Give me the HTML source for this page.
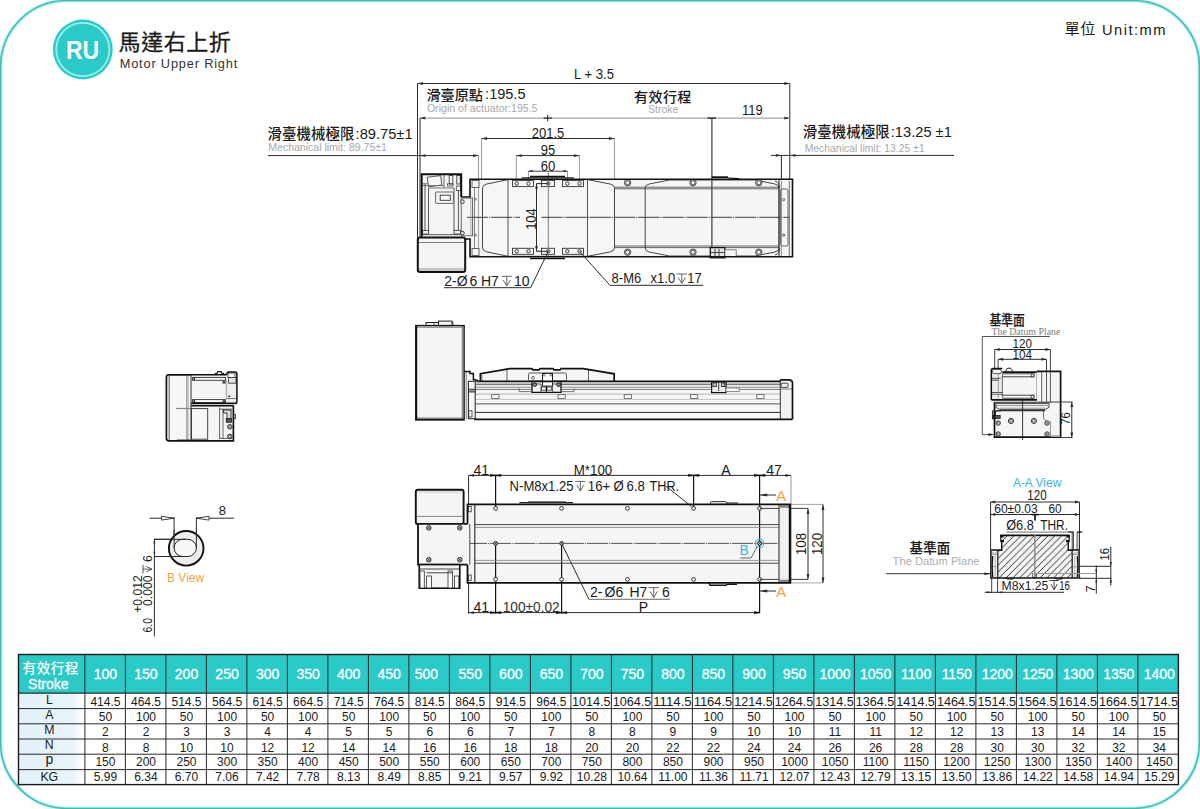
<!DOCTYPE html>
<html><head><meta charset="utf-8"><title>RU Motor Upper Right</title>
<style>html,body{margin:0;padding:0;background:#fff;}body{width:1200px;height:809px;overflow:hidden;font-family:"Liberation Sans",sans-serif;}svg{display:block;}</style>
</head><body>
<svg width="1200" height="809" viewBox="0 0 1200 809" font-family="Liberation Sans, sans-serif">
<rect x="0.6" y="0.6" width="1198.8" height="807.8" fill="#fff" stroke="#dcfafa" stroke-width="4.4" rx="66"/>
<rect x="0.6" y="0.6" width="1198.8" height="807.8" fill="none" stroke="#a9eeee" stroke-width="2.8" rx="66"/>
<rect x="0.6" y="0.6" width="1198.8" height="807.8" fill="none" stroke="#42b9b9" stroke-width="1.5" rx="66"/>
<circle cx="82.8" cy="49.5" r="29.9" fill="#2acac8"/>
<circle cx="82.8" cy="49.5" r="26.6" fill="none" stroke="#97efea" stroke-width="1.8"/>
<text x="82.5" y="58.8" font-size="26" fill="#fff" text-anchor="middle" font-weight="bold" textLength="33.2" lengthAdjust="spacingAndGlyphs">RU</text>
<text x="118.6" y="49.7" font-size="22" fill="#1a1a1a" stroke="#1a1a1a" stroke-width="0.3" font-family="'Liberation Sans', 'Noto Sans CJK TC', sans-serif" textLength="112.2" lengthAdjust="spacing">馬達右上折</text>
<text x="119.7" y="67.7" font-size="12.8" fill="#333" textLength="117.6" lengthAdjust="spacing">Motor Upper Right</text>
<text x="1064.6" y="34.3" font-size="15.2" fill="#1a1a1a" font-family="'Liberation Sans', 'Noto Sans CJK TC', sans-serif" textLength="30.9" lengthAdjust="spacing">單位</text>
<text x="1102" y="34.5" font-size="14.7" fill="#1a1a1a" textLength="63.5" lengthAdjust="spacing">Unit:mm</text>
<defs><linearGradient id="lb" x1="0" x2="1" y1="0" y2="0"><stop offset="0" stop-color="#e3f1fa"/><stop offset="0.82" stop-color="#e8f4fb"/><stop offset="1" stop-color="#ffffff"/></linearGradient></defs>
<rect x="18.5" y="654.5" width="1159.9" height="38.7" fill="#2acac8"/>
<rect x="18.5" y="693.2" width="65.4" height="91.4" fill="url(#lb)"/>
<line x1="18.5" y1="708.6" x2="1178.4" y2="708.6" stroke="#2a2a2a" stroke-width="1"/>
<line x1="18.5" y1="723.8" x2="1178.4" y2="723.8" stroke="#2a2a2a" stroke-width="1"/>
<line x1="18.5" y1="739" x2="1178.4" y2="739" stroke="#2a2a2a" stroke-width="1"/>
<line x1="18.5" y1="754.2" x2="1178.4" y2="754.2" stroke="#2a2a2a" stroke-width="1"/>
<line x1="18.5" y1="769.6" x2="1178.4" y2="769.6" stroke="#2a2a2a" stroke-width="1"/>
<line x1="18.5" y1="693.2" x2="1178.4" y2="693.2" stroke="#2a2a2a" stroke-width="1.2"/>
<line x1="84.9" y1="654.5" x2="84.9" y2="784.6" stroke="#2a2a2a" stroke-width="1"/>
<line x1="125.4" y1="654.5" x2="125.4" y2="784.6" stroke="#2a2a2a" stroke-width="1"/>
<line x1="165.9" y1="654.5" x2="165.9" y2="784.6" stroke="#2a2a2a" stroke-width="1"/>
<line x1="206.4" y1="654.5" x2="206.4" y2="784.6" stroke="#2a2a2a" stroke-width="1"/>
<line x1="246.9" y1="654.5" x2="246.9" y2="784.6" stroke="#2a2a2a" stroke-width="1"/>
<line x1="287.4" y1="654.5" x2="287.4" y2="784.6" stroke="#2a2a2a" stroke-width="1"/>
<line x1="327.9" y1="654.5" x2="327.9" y2="784.6" stroke="#2a2a2a" stroke-width="1"/>
<line x1="368.4" y1="654.5" x2="368.4" y2="784.6" stroke="#2a2a2a" stroke-width="1"/>
<line x1="408.9" y1="654.5" x2="408.9" y2="784.6" stroke="#2a2a2a" stroke-width="1"/>
<line x1="449.4" y1="654.5" x2="449.4" y2="784.6" stroke="#2a2a2a" stroke-width="1"/>
<line x1="489.9" y1="654.5" x2="489.9" y2="784.6" stroke="#2a2a2a" stroke-width="1"/>
<line x1="530.4" y1="654.5" x2="530.4" y2="784.6" stroke="#2a2a2a" stroke-width="1"/>
<line x1="570.9" y1="654.5" x2="570.9" y2="784.6" stroke="#2a2a2a" stroke-width="1"/>
<line x1="611.4" y1="654.5" x2="611.4" y2="784.6" stroke="#2a2a2a" stroke-width="1"/>
<line x1="651.9" y1="654.5" x2="651.9" y2="784.6" stroke="#2a2a2a" stroke-width="1"/>
<line x1="692.4" y1="654.5" x2="692.4" y2="784.6" stroke="#2a2a2a" stroke-width="1"/>
<line x1="732.9" y1="654.5" x2="732.9" y2="784.6" stroke="#2a2a2a" stroke-width="1"/>
<line x1="773.4" y1="654.5" x2="773.4" y2="784.6" stroke="#2a2a2a" stroke-width="1"/>
<line x1="813.9" y1="654.5" x2="813.9" y2="784.6" stroke="#2a2a2a" stroke-width="1"/>
<line x1="854.4" y1="654.5" x2="854.4" y2="784.6" stroke="#2a2a2a" stroke-width="1"/>
<line x1="894.9" y1="654.5" x2="894.9" y2="784.6" stroke="#2a2a2a" stroke-width="1"/>
<line x1="935.4" y1="654.5" x2="935.4" y2="784.6" stroke="#2a2a2a" stroke-width="1"/>
<line x1="975.9" y1="654.5" x2="975.9" y2="784.6" stroke="#2a2a2a" stroke-width="1"/>
<line x1="1016.4" y1="654.5" x2="1016.4" y2="784.6" stroke="#2a2a2a" stroke-width="1"/>
<line x1="1056.9" y1="654.5" x2="1056.9" y2="784.6" stroke="#2a2a2a" stroke-width="1"/>
<line x1="1097.4" y1="654.5" x2="1097.4" y2="784.6" stroke="#2a2a2a" stroke-width="1"/>
<line x1="1137.9" y1="654.5" x2="1137.9" y2="784.6" stroke="#2a2a2a" stroke-width="1"/>
<rect x="18.5" y="654.5" width="1159.9" height="130.1" fill="none" stroke="#1a1a1a" stroke-width="1.4"/>
<text x="22.6" y="672.6" font-size="13.6" fill="#fff" font-weight="500" font-family="'Liberation Sans', 'Noto Sans CJK TC', sans-serif" textLength="55.75" lengthAdjust="spacing">有效行程</text>
<text x="48.3" y="688.6" font-size="14" fill="#fff" text-anchor="middle" stroke="#fff" stroke-width="0.3">Stroke</text>
<text x="49.3" y="704.3" font-size="12.3" fill="#1a1a1a" text-anchor="middle">L</text>
<text x="49.3" y="719.1" font-size="12.3" fill="#1a1a1a" text-anchor="middle">A</text>
<text x="49.3" y="734.3" font-size="12.3" fill="#1a1a1a" text-anchor="middle">M</text>
<text x="49.3" y="749.2" font-size="12.3" fill="#1a1a1a" text-anchor="middle">N</text>
<text x="49.3" y="763.6" font-size="14" fill="#1a1a1a" text-anchor="middle">p</text>
<text x="49.3" y="781" font-size="12.3" fill="#1a1a1a" text-anchor="middle">KG</text>
<text x="105.45" y="679.3" font-size="14" fill="#fff" text-anchor="middle" stroke="#fff" stroke-width="0.3">100</text>
<text x="105.45" y="705.8" font-size="12" fill="#1a1a1a" text-anchor="middle">414.5</text>
<text x="105.45" y="721.3" font-size="12" fill="#1a1a1a" text-anchor="middle">50</text>
<text x="105.45" y="735.9" font-size="12" fill="#1a1a1a" text-anchor="middle">2</text>
<text x="105.45" y="751.5" font-size="12" fill="#1a1a1a" text-anchor="middle">8</text>
<text x="105.45" y="766.4" font-size="12" fill="#1a1a1a" text-anchor="middle">150</text>
<text x="105.45" y="781.2" font-size="12" fill="#1a1a1a" text-anchor="middle">5.99</text>
<text x="145.98" y="679.3" font-size="14" fill="#fff" text-anchor="middle" stroke="#fff" stroke-width="0.3">150</text>
<text x="145.98" y="705.8" font-size="12" fill="#1a1a1a" text-anchor="middle">464.5</text>
<text x="145.98" y="721.3" font-size="12" fill="#1a1a1a" text-anchor="middle">100</text>
<text x="145.98" y="735.9" font-size="12" fill="#1a1a1a" text-anchor="middle">2</text>
<text x="145.98" y="751.5" font-size="12" fill="#1a1a1a" text-anchor="middle">8</text>
<text x="145.98" y="766.4" font-size="12" fill="#1a1a1a" text-anchor="middle">200</text>
<text x="145.98" y="781.2" font-size="12" fill="#1a1a1a" text-anchor="middle">6.34</text>
<text x="186.52" y="679.3" font-size="14" fill="#fff" text-anchor="middle" stroke="#fff" stroke-width="0.3">200</text>
<text x="186.52" y="705.8" font-size="12" fill="#1a1a1a" text-anchor="middle">514.5</text>
<text x="186.52" y="721.3" font-size="12" fill="#1a1a1a" text-anchor="middle">50</text>
<text x="186.52" y="735.9" font-size="12" fill="#1a1a1a" text-anchor="middle">3</text>
<text x="186.52" y="751.5" font-size="12" fill="#1a1a1a" text-anchor="middle">10</text>
<text x="186.52" y="766.4" font-size="12" fill="#1a1a1a" text-anchor="middle">250</text>
<text x="186.52" y="781.2" font-size="12" fill="#1a1a1a" text-anchor="middle">6.70</text>
<text x="227.05" y="679.3" font-size="14" fill="#fff" text-anchor="middle" stroke="#fff" stroke-width="0.3">250</text>
<text x="227.05" y="705.8" font-size="12" fill="#1a1a1a" text-anchor="middle">564.5</text>
<text x="227.05" y="721.3" font-size="12" fill="#1a1a1a" text-anchor="middle">100</text>
<text x="227.05" y="735.9" font-size="12" fill="#1a1a1a" text-anchor="middle">3</text>
<text x="227.05" y="751.5" font-size="12" fill="#1a1a1a" text-anchor="middle">10</text>
<text x="227.05" y="766.4" font-size="12" fill="#1a1a1a" text-anchor="middle">300</text>
<text x="227.05" y="781.2" font-size="12" fill="#1a1a1a" text-anchor="middle">7.06</text>
<text x="267.59" y="679.3" font-size="14" fill="#fff" text-anchor="middle" stroke="#fff" stroke-width="0.3">300</text>
<text x="267.59" y="705.8" font-size="12" fill="#1a1a1a" text-anchor="middle">614.5</text>
<text x="267.59" y="721.3" font-size="12" fill="#1a1a1a" text-anchor="middle">50</text>
<text x="267.59" y="735.9" font-size="12" fill="#1a1a1a" text-anchor="middle">4</text>
<text x="267.59" y="751.5" font-size="12" fill="#1a1a1a" text-anchor="middle">12</text>
<text x="267.59" y="766.4" font-size="12" fill="#1a1a1a" text-anchor="middle">350</text>
<text x="267.59" y="781.2" font-size="12" fill="#1a1a1a" text-anchor="middle">7.42</text>
<text x="308.12" y="679.3" font-size="14" fill="#fff" text-anchor="middle" stroke="#fff" stroke-width="0.3">350</text>
<text x="308.12" y="705.8" font-size="12" fill="#1a1a1a" text-anchor="middle">664.5</text>
<text x="308.12" y="721.3" font-size="12" fill="#1a1a1a" text-anchor="middle">100</text>
<text x="308.12" y="735.9" font-size="12" fill="#1a1a1a" text-anchor="middle">4</text>
<text x="308.12" y="751.5" font-size="12" fill="#1a1a1a" text-anchor="middle">12</text>
<text x="308.12" y="766.4" font-size="12" fill="#1a1a1a" text-anchor="middle">400</text>
<text x="308.12" y="781.2" font-size="12" fill="#1a1a1a" text-anchor="middle">7.78</text>
<text x="348.66" y="679.3" font-size="14" fill="#fff" text-anchor="middle" stroke="#fff" stroke-width="0.3">400</text>
<text x="348.66" y="705.8" font-size="12" fill="#1a1a1a" text-anchor="middle">714.5</text>
<text x="348.66" y="721.3" font-size="12" fill="#1a1a1a" text-anchor="middle">50</text>
<text x="348.66" y="735.9" font-size="12" fill="#1a1a1a" text-anchor="middle">5</text>
<text x="348.66" y="751.5" font-size="12" fill="#1a1a1a" text-anchor="middle">14</text>
<text x="348.66" y="766.4" font-size="12" fill="#1a1a1a" text-anchor="middle">450</text>
<text x="348.66" y="781.2" font-size="12" fill="#1a1a1a" text-anchor="middle">8.13</text>
<text x="389.19" y="679.3" font-size="14" fill="#fff" text-anchor="middle" stroke="#fff" stroke-width="0.3">450</text>
<text x="389.19" y="705.8" font-size="12" fill="#1a1a1a" text-anchor="middle">764.5</text>
<text x="389.19" y="721.3" font-size="12" fill="#1a1a1a" text-anchor="middle">100</text>
<text x="389.19" y="735.9" font-size="12" fill="#1a1a1a" text-anchor="middle">5</text>
<text x="389.19" y="751.5" font-size="12" fill="#1a1a1a" text-anchor="middle">14</text>
<text x="389.19" y="766.4" font-size="12" fill="#1a1a1a" text-anchor="middle">500</text>
<text x="389.19" y="781.2" font-size="12" fill="#1a1a1a" text-anchor="middle">8.49</text>
<text x="426.33" y="679.3" font-size="14" fill="#fff" text-anchor="middle" stroke="#fff" stroke-width="0.3">500</text>
<text x="429.73" y="705.8" font-size="12" fill="#1a1a1a" text-anchor="middle">814.5</text>
<text x="429.73" y="721.3" font-size="12" fill="#1a1a1a" text-anchor="middle">50</text>
<text x="429.73" y="735.9" font-size="12" fill="#1a1a1a" text-anchor="middle">6</text>
<text x="429.73" y="751.5" font-size="12" fill="#1a1a1a" text-anchor="middle">16</text>
<text x="429.73" y="766.4" font-size="12" fill="#1a1a1a" text-anchor="middle">550</text>
<text x="429.73" y="781.2" font-size="12" fill="#1a1a1a" text-anchor="middle">8.85</text>
<text x="470.26" y="679.3" font-size="14" fill="#fff" text-anchor="middle" stroke="#fff" stroke-width="0.3">550</text>
<text x="470.26" y="705.8" font-size="12" fill="#1a1a1a" text-anchor="middle">864.5</text>
<text x="470.26" y="721.3" font-size="12" fill="#1a1a1a" text-anchor="middle">100</text>
<text x="470.26" y="735.9" font-size="12" fill="#1a1a1a" text-anchor="middle">6</text>
<text x="470.26" y="751.5" font-size="12" fill="#1a1a1a" text-anchor="middle">16</text>
<text x="470.26" y="766.4" font-size="12" fill="#1a1a1a" text-anchor="middle">600</text>
<text x="470.26" y="781.2" font-size="12" fill="#1a1a1a" text-anchor="middle">9.21</text>
<text x="510.8" y="679.3" font-size="14" fill="#fff" text-anchor="middle" stroke="#fff" stroke-width="0.3">600</text>
<text x="510.8" y="705.8" font-size="12" fill="#1a1a1a" text-anchor="middle">914.5</text>
<text x="510.8" y="721.3" font-size="12" fill="#1a1a1a" text-anchor="middle">50</text>
<text x="510.8" y="735.9" font-size="12" fill="#1a1a1a" text-anchor="middle">7</text>
<text x="510.8" y="751.5" font-size="12" fill="#1a1a1a" text-anchor="middle">18</text>
<text x="510.8" y="766.4" font-size="12" fill="#1a1a1a" text-anchor="middle">650</text>
<text x="510.8" y="781.2" font-size="12" fill="#1a1a1a" text-anchor="middle">9.57</text>
<text x="551.33" y="679.3" font-size="14" fill="#fff" text-anchor="middle" stroke="#fff" stroke-width="0.3">650</text>
<text x="551.33" y="705.8" font-size="12" fill="#1a1a1a" text-anchor="middle">964.5</text>
<text x="551.33" y="721.3" font-size="12" fill="#1a1a1a" text-anchor="middle">100</text>
<text x="551.33" y="735.9" font-size="12" fill="#1a1a1a" text-anchor="middle">7</text>
<text x="551.33" y="751.5" font-size="12" fill="#1a1a1a" text-anchor="middle">18</text>
<text x="551.33" y="766.4" font-size="12" fill="#1a1a1a" text-anchor="middle">700</text>
<text x="551.33" y="781.2" font-size="12" fill="#1a1a1a" text-anchor="middle">9.92</text>
<text x="591.87" y="679.3" font-size="14" fill="#fff" text-anchor="middle" stroke="#fff" stroke-width="0.3">700</text>
<text x="591.37" y="705.8" font-size="12" fill="#1a1a1a" text-anchor="middle" textLength="38.5" lengthAdjust="spacingAndGlyphs">1014.5</text>
<text x="591.87" y="721.3" font-size="12" fill="#1a1a1a" text-anchor="middle">50</text>
<text x="591.87" y="735.9" font-size="12" fill="#1a1a1a" text-anchor="middle">8</text>
<text x="591.87" y="751.5" font-size="12" fill="#1a1a1a" text-anchor="middle">20</text>
<text x="591.87" y="766.4" font-size="12" fill="#1a1a1a" text-anchor="middle">750</text>
<text x="591.87" y="781.2" font-size="12" fill="#1a1a1a" text-anchor="middle">10.28</text>
<text x="632.4" y="679.3" font-size="14" fill="#fff" text-anchor="middle" stroke="#fff" stroke-width="0.3">750</text>
<text x="631.9" y="705.8" font-size="12" fill="#1a1a1a" text-anchor="middle" textLength="38.5" lengthAdjust="spacingAndGlyphs">1064.5</text>
<text x="632.4" y="721.3" font-size="12" fill="#1a1a1a" text-anchor="middle">100</text>
<text x="632.4" y="735.9" font-size="12" fill="#1a1a1a" text-anchor="middle">8</text>
<text x="632.4" y="751.5" font-size="12" fill="#1a1a1a" text-anchor="middle">20</text>
<text x="632.4" y="766.4" font-size="12" fill="#1a1a1a" text-anchor="middle">800</text>
<text x="632.4" y="781.2" font-size="12" fill="#1a1a1a" text-anchor="middle">10.64</text>
<text x="672.93" y="679.3" font-size="14" fill="#fff" text-anchor="middle" stroke="#fff" stroke-width="0.3">800</text>
<text x="672.43" y="705.8" font-size="12" fill="#1a1a1a" text-anchor="middle" textLength="38.5" lengthAdjust="spacingAndGlyphs">1114.5</text>
<text x="672.93" y="721.3" font-size="12" fill="#1a1a1a" text-anchor="middle">50</text>
<text x="672.93" y="735.9" font-size="12" fill="#1a1a1a" text-anchor="middle">9</text>
<text x="672.93" y="751.5" font-size="12" fill="#1a1a1a" text-anchor="middle">22</text>
<text x="672.93" y="766.4" font-size="12" fill="#1a1a1a" text-anchor="middle">850</text>
<text x="672.93" y="781.2" font-size="12" fill="#1a1a1a" text-anchor="middle">11.00</text>
<text x="713.47" y="679.3" font-size="14" fill="#fff" text-anchor="middle" stroke="#fff" stroke-width="0.3">850</text>
<text x="712.97" y="705.8" font-size="12" fill="#1a1a1a" text-anchor="middle" textLength="38.5" lengthAdjust="spacingAndGlyphs">1164.5</text>
<text x="713.47" y="721.3" font-size="12" fill="#1a1a1a" text-anchor="middle">100</text>
<text x="713.47" y="735.9" font-size="12" fill="#1a1a1a" text-anchor="middle">9</text>
<text x="713.47" y="751.5" font-size="12" fill="#1a1a1a" text-anchor="middle">22</text>
<text x="713.47" y="766.4" font-size="12" fill="#1a1a1a" text-anchor="middle">900</text>
<text x="713.47" y="781.2" font-size="12" fill="#1a1a1a" text-anchor="middle">11.36</text>
<text x="754" y="679.3" font-size="14" fill="#fff" text-anchor="middle" stroke="#fff" stroke-width="0.3">900</text>
<text x="753.5" y="705.8" font-size="12" fill="#1a1a1a" text-anchor="middle" textLength="38.5" lengthAdjust="spacingAndGlyphs">1214.5</text>
<text x="754" y="721.3" font-size="12" fill="#1a1a1a" text-anchor="middle">50</text>
<text x="754" y="735.9" font-size="12" fill="#1a1a1a" text-anchor="middle">10</text>
<text x="754" y="751.5" font-size="12" fill="#1a1a1a" text-anchor="middle">24</text>
<text x="754" y="766.4" font-size="12" fill="#1a1a1a" text-anchor="middle">950</text>
<text x="754" y="781.2" font-size="12" fill="#1a1a1a" text-anchor="middle">11.71</text>
<text x="794.54" y="679.3" font-size="14" fill="#fff" text-anchor="middle" stroke="#fff" stroke-width="0.3">950</text>
<text x="794.04" y="705.8" font-size="12" fill="#1a1a1a" text-anchor="middle" textLength="38.5" lengthAdjust="spacingAndGlyphs">1264.5</text>
<text x="794.54" y="721.3" font-size="12" fill="#1a1a1a" text-anchor="middle">100</text>
<text x="794.54" y="735.9" font-size="12" fill="#1a1a1a" text-anchor="middle">10</text>
<text x="794.54" y="751.5" font-size="12" fill="#1a1a1a" text-anchor="middle">24</text>
<text x="794.54" y="766.4" font-size="12" fill="#1a1a1a" text-anchor="middle">1000</text>
<text x="794.54" y="781.2" font-size="12" fill="#1a1a1a" text-anchor="middle">12.07</text>
<text x="835.07" y="679.3" font-size="14" fill="#fff" text-anchor="middle" stroke="#fff" stroke-width="0.3">1000</text>
<text x="834.57" y="705.8" font-size="12" fill="#1a1a1a" text-anchor="middle" textLength="38.5" lengthAdjust="spacingAndGlyphs">1314.5</text>
<text x="835.07" y="721.3" font-size="12" fill="#1a1a1a" text-anchor="middle">50</text>
<text x="835.07" y="735.9" font-size="12" fill="#1a1a1a" text-anchor="middle">11</text>
<text x="835.07" y="751.5" font-size="12" fill="#1a1a1a" text-anchor="middle">26</text>
<text x="835.07" y="766.4" font-size="12" fill="#1a1a1a" text-anchor="middle">1050</text>
<text x="835.07" y="781.2" font-size="12" fill="#1a1a1a" text-anchor="middle">12.43</text>
<text x="875.61" y="679.3" font-size="14" fill="#fff" text-anchor="middle" stroke="#fff" stroke-width="0.3">1050</text>
<text x="875.11" y="705.8" font-size="12" fill="#1a1a1a" text-anchor="middle" textLength="38.5" lengthAdjust="spacingAndGlyphs">1364.5</text>
<text x="875.61" y="721.3" font-size="12" fill="#1a1a1a" text-anchor="middle">100</text>
<text x="875.61" y="735.9" font-size="12" fill="#1a1a1a" text-anchor="middle">11</text>
<text x="875.61" y="751.5" font-size="12" fill="#1a1a1a" text-anchor="middle">26</text>
<text x="875.61" y="766.4" font-size="12" fill="#1a1a1a" text-anchor="middle">1100</text>
<text x="875.61" y="781.2" font-size="12" fill="#1a1a1a" text-anchor="middle">12.79</text>
<text x="916.14" y="679.3" font-size="14" fill="#fff" text-anchor="middle" stroke="#fff" stroke-width="0.3">1100</text>
<text x="915.64" y="705.8" font-size="12" fill="#1a1a1a" text-anchor="middle" textLength="38.5" lengthAdjust="spacingAndGlyphs">1414.5</text>
<text x="916.14" y="721.3" font-size="12" fill="#1a1a1a" text-anchor="middle">50</text>
<text x="916.14" y="735.9" font-size="12" fill="#1a1a1a" text-anchor="middle">12</text>
<text x="916.14" y="751.5" font-size="12" fill="#1a1a1a" text-anchor="middle">28</text>
<text x="916.14" y="766.4" font-size="12" fill="#1a1a1a" text-anchor="middle">1150</text>
<text x="916.14" y="781.2" font-size="12" fill="#1a1a1a" text-anchor="middle">13.15</text>
<text x="956.68" y="679.3" font-size="14" fill="#fff" text-anchor="middle" stroke="#fff" stroke-width="0.3">1150</text>
<text x="956.18" y="705.8" font-size="12" fill="#1a1a1a" text-anchor="middle" textLength="38.5" lengthAdjust="spacingAndGlyphs">1464.5</text>
<text x="956.68" y="721.3" font-size="12" fill="#1a1a1a" text-anchor="middle">100</text>
<text x="956.68" y="735.9" font-size="12" fill="#1a1a1a" text-anchor="middle">12</text>
<text x="956.68" y="751.5" font-size="12" fill="#1a1a1a" text-anchor="middle">28</text>
<text x="956.68" y="766.4" font-size="12" fill="#1a1a1a" text-anchor="middle">1200</text>
<text x="956.68" y="781.2" font-size="12" fill="#1a1a1a" text-anchor="middle">13.50</text>
<text x="997.21" y="679.3" font-size="14" fill="#fff" text-anchor="middle" stroke="#fff" stroke-width="0.3">1200</text>
<text x="996.71" y="705.8" font-size="12" fill="#1a1a1a" text-anchor="middle" textLength="38.5" lengthAdjust="spacingAndGlyphs">1514.5</text>
<text x="997.21" y="721.3" font-size="12" fill="#1a1a1a" text-anchor="middle">50</text>
<text x="997.21" y="735.9" font-size="12" fill="#1a1a1a" text-anchor="middle">13</text>
<text x="997.21" y="751.5" font-size="12" fill="#1a1a1a" text-anchor="middle">30</text>
<text x="997.21" y="766.4" font-size="12" fill="#1a1a1a" text-anchor="middle">1250</text>
<text x="997.21" y="781.2" font-size="12" fill="#1a1a1a" text-anchor="middle">13.86</text>
<text x="1037.75" y="679.3" font-size="14" fill="#fff" text-anchor="middle" stroke="#fff" stroke-width="0.3">1250</text>
<text x="1037.25" y="705.8" font-size="12" fill="#1a1a1a" text-anchor="middle" textLength="38.5" lengthAdjust="spacingAndGlyphs">1564.5</text>
<text x="1037.75" y="721.3" font-size="12" fill="#1a1a1a" text-anchor="middle">100</text>
<text x="1037.75" y="735.9" font-size="12" fill="#1a1a1a" text-anchor="middle">13</text>
<text x="1037.75" y="751.5" font-size="12" fill="#1a1a1a" text-anchor="middle">30</text>
<text x="1037.75" y="766.4" font-size="12" fill="#1a1a1a" text-anchor="middle">1300</text>
<text x="1037.75" y="781.2" font-size="12" fill="#1a1a1a" text-anchor="middle">14.22</text>
<text x="1078.28" y="679.3" font-size="14" fill="#fff" text-anchor="middle" stroke="#fff" stroke-width="0.3">1300</text>
<text x="1077.78" y="705.8" font-size="12" fill="#1a1a1a" text-anchor="middle" textLength="38.5" lengthAdjust="spacingAndGlyphs">1614.5</text>
<text x="1078.28" y="721.3" font-size="12" fill="#1a1a1a" text-anchor="middle">50</text>
<text x="1078.28" y="735.9" font-size="12" fill="#1a1a1a" text-anchor="middle">14</text>
<text x="1078.28" y="751.5" font-size="12" fill="#1a1a1a" text-anchor="middle">32</text>
<text x="1078.28" y="766.4" font-size="12" fill="#1a1a1a" text-anchor="middle">1350</text>
<text x="1078.28" y="781.2" font-size="12" fill="#1a1a1a" text-anchor="middle">14.58</text>
<text x="1118.82" y="679.3" font-size="14" fill="#fff" text-anchor="middle" stroke="#fff" stroke-width="0.3">1350</text>
<text x="1118.32" y="705.8" font-size="12" fill="#1a1a1a" text-anchor="middle" textLength="38.5" lengthAdjust="spacingAndGlyphs">1664.5</text>
<text x="1118.82" y="721.3" font-size="12" fill="#1a1a1a" text-anchor="middle">100</text>
<text x="1118.82" y="735.9" font-size="12" fill="#1a1a1a" text-anchor="middle">14</text>
<text x="1118.82" y="751.5" font-size="12" fill="#1a1a1a" text-anchor="middle">32</text>
<text x="1118.82" y="766.4" font-size="12" fill="#1a1a1a" text-anchor="middle">1400</text>
<text x="1118.82" y="781.2" font-size="12" fill="#1a1a1a" text-anchor="middle">14.94</text>
<text x="1159.35" y="679.3" font-size="14" fill="#fff" text-anchor="middle" stroke="#fff" stroke-width="0.3">1400</text>
<text x="1158.85" y="705.8" font-size="12" fill="#1a1a1a" text-anchor="middle" textLength="38.5" lengthAdjust="spacingAndGlyphs">1714.5</text>
<text x="1159.35" y="721.3" font-size="12" fill="#1a1a1a" text-anchor="middle">50</text>
<text x="1159.35" y="735.9" font-size="12" fill="#1a1a1a" text-anchor="middle">15</text>
<text x="1159.35" y="751.5" font-size="12" fill="#1a1a1a" text-anchor="middle">34</text>
<text x="1159.35" y="766.4" font-size="12" fill="#1a1a1a" text-anchor="middle">1450</text>
<text x="1159.35" y="781.2" font-size="12" fill="#1a1a1a" text-anchor="middle">15.29</text>
<rect x="470.3" y="179.2" width="322.2" height="77.5" fill="#f5f5f5"/>
<rect x="421.7" y="174.2" width="39.5" height="63.5" fill="#f4f4f4"/>
<rect x="417.8" y="237.5" width="47.4" height="34.5" fill="#f4f4f4" rx="2"/>
<rect x="461" y="198" width="11.6" height="37.8" fill="#f4f4f4"/>
<line x1="417.5" y1="83.5" x2="417.5" y2="237.5" stroke="#2b2b2b" stroke-width="1"/>
<line x1="789.8" y1="83.5" x2="789.8" y2="179" stroke="#2b2b2b" stroke-width="1"/>
<line x1="417.5" y1="83.5" x2="789.8" y2="83.5" stroke="#2b2b2b" stroke-width="1"/>
<path d="M417.5 83.5 L423 82.05 L423 84.95 Z" fill="#2b2b2b"/>
<path d="M789.8 83.5 L784.3 82.05 L784.3 84.95 Z" fill="#2b2b2b"/>
<text x="594" y="78.5" font-size="14.4" fill="#1a1a1a" text-anchor="middle" textLength="40" lengthAdjust="spacingAndGlyphs">L + 3.5</text>
<line x1="419.8" y1="118.1" x2="789.8" y2="118.1" stroke="#a5a5a5" stroke-width="1.4"/>
<line x1="420" y1="118.1" x2="420" y2="237.5" stroke="#2b2b2b" stroke-width="1"/>
<path d="M419.8 118.1 L425.3 116.65 L425.3 119.55 Z" fill="#2b2b2b"/>
<path d="M789.8 118.1 L784.3 116.65 L784.3 119.55 Z" fill="#2b2b2b"/>
<line x1="543.5" y1="118.1" x2="552" y2="118.1" stroke="#2b2b2b" stroke-width="1.2"/>
<line x1="547.7" y1="114.8" x2="547.7" y2="121.3" stroke="#2b2b2b" stroke-width="1"/>
<line x1="707.5" y1="118.1" x2="716" y2="118.1" stroke="#2b2b2b" stroke-width="1.4"/>
<line x1="711.9" y1="118" x2="711.9" y2="258" stroke="#2b2b2b" stroke-width="1.1"/>
<line x1="481.5" y1="138.5" x2="481.5" y2="180" stroke="#9a9a9a" stroke-width="1"/>
<line x1="614.4" y1="138.5" x2="614.4" y2="180" stroke="#9a9a9a" stroke-width="1"/>
<line x1="481.5" y1="138.5" x2="614.4" y2="138.5" stroke="#2b2b2b" stroke-width="1"/>
<path d="M481.5 138.5 L487 137.05 L487 139.95 Z" fill="#2b2b2b"/>
<path d="M614.4 138.5 L608.9 137.05 L608.9 139.95 Z" fill="#2b2b2b"/>
<text x="548" y="137.9" font-size="15.1" fill="#1a1a1a" text-anchor="middle" textLength="32.53" lengthAdjust="spacingAndGlyphs">201.5</text>
<line x1="516.3" y1="155.6" x2="516.3" y2="181" stroke="#9a9a9a" stroke-width="1"/>
<line x1="579.4" y1="155.6" x2="579.4" y2="181" stroke="#9a9a9a" stroke-width="1"/>
<line x1="516.3" y1="155.6" x2="579.4" y2="155.6" stroke="#2b2b2b" stroke-width="1"/>
<path d="M516.3 155.6 L521.8 154.15 L521.8 157.05 Z" fill="#2b2b2b"/>
<path d="M579.4 155.6 L573.9 154.15 L573.9 157.05 Z" fill="#2b2b2b"/>
<text x="548" y="154.7" font-size="15.1" fill="#1a1a1a" text-anchor="middle" textLength="14.46" lengthAdjust="spacingAndGlyphs">95</text>
<line x1="528.4" y1="171" x2="528.4" y2="182" stroke="#9a9a9a" stroke-width="1"/>
<line x1="567.5" y1="171" x2="567.5" y2="182" stroke="#9a9a9a" stroke-width="1"/>
<line x1="528.4" y1="171.2" x2="567.5" y2="171.2" stroke="#2b2b2b" stroke-width="0.9"/>
<path d="M528.4 171.2 L532.6 170.1 L532.6 172.3 Z" fill="#2b2b2b"/>
<path d="M567.5 171.2 L563.3 170.1 L563.3 172.3 Z" fill="#2b2b2b"/>
<text x="548" y="170.7" font-size="15.1" fill="#1a1a1a" text-anchor="middle" textLength="14.46" lengthAdjust="spacingAndGlyphs">60</text>
<line x1="268" y1="155.6" x2="478.5" y2="155.6" stroke="#2b2b2b" stroke-width="1"/>
<path d="M420 155.6 L425.5 154.15 L425.5 157.05 Z" fill="#2b2b2b"/>
<path d="M478.5 155.6 L473 154.15 L473 157.05 Z" fill="#2b2b2b"/>
<line x1="478.5" y1="155.6" x2="478.5" y2="180" stroke="#9a9a9a" stroke-width="1"/>
<text x="267.4" y="139.2" font-size="14.4" fill="#1a1a1a" font-weight="500" font-family="'Liberation Sans', 'Noto Sans CJK TC', sans-serif" textLength="86.9" lengthAdjust="spacing">滑臺機械極限</text>
<text x="355.6" y="139.4" font-size="14.4" fill="#1a1a1a" textLength="57" lengthAdjust="spacingAndGlyphs">:89.75±1</text>
<text x="268.3" y="150.9" font-size="10.9" fill="#a8a8a8" textLength="118.6" lengthAdjust="spacingAndGlyphs">Mechanical limit: 89.75±1</text>
<text x="426.4" y="99.7" font-size="14.2" fill="#1a1a1a" font-weight="500" font-family="'Liberation Sans', 'Noto Sans CJK TC', sans-serif" textLength="56.65" lengthAdjust="spacing">滑臺原點</text>
<text x="485.1" y="99" font-size="14.4" fill="#1a1a1a" textLength="40.4" lengthAdjust="spacingAndGlyphs">:195.5</text>
<text x="426.9" y="111.7" font-size="10.5" fill="#a8a8a8" textLength="110.6" lengthAdjust="spacingAndGlyphs">Origin of actuator:195.5</text>
<text x="634.1" y="102.4" font-size="14.1" fill="#1a1a1a" font-weight="500" font-family="'Liberation Sans', 'Noto Sans CJK TC', sans-serif" textLength="57.3" lengthAdjust="spacing">有效行程</text>
<text x="663.3" y="112.9" font-size="10.5" fill="#a8a8a8" text-anchor="middle">Stroke</text>
<text x="752.4" y="114.6" font-size="14.2" fill="#1a1a1a" text-anchor="middle" textLength="20.6" lengthAdjust="spacingAndGlyphs">119</text>
<line x1="771" y1="155.4" x2="954" y2="155.4" stroke="#2b2b2b" stroke-width="1"/>
<path d="M781.4 155.4 L775.9 153.95 L775.9 156.85 Z" fill="#2b2b2b"/>
<path d="M790 155.4 L795.5 153.95 L795.5 156.85 Z" fill="#2b2b2b"/>
<line x1="781.4" y1="155.4" x2="781.4" y2="180" stroke="#2b2b2b" stroke-width="1"/>
<text x="802.8" y="136.9" font-size="14.4" fill="#1a1a1a" font-weight="500" font-family="'Liberation Sans', 'Noto Sans CJK TC', sans-serif" textLength="86.9" lengthAdjust="spacing">滑臺機械極限</text>
<text x="890.8" y="137" font-size="14.4" fill="#1a1a1a" textLength="61" lengthAdjust="spacingAndGlyphs">:13.25 ±1</text>
<text x="804.7" y="151.6" font-size="10.9" fill="#a8a8a8" textLength="120" lengthAdjust="spacingAndGlyphs">Mechanical limit: 13.25 ±1</text>
<line x1="614.5" y1="187.2" x2="779" y2="187.2" stroke="#555" stroke-width="0.9"/>
<line x1="614.5" y1="188.8" x2="779" y2="188.8" stroke="#555" stroke-width="0.9"/>
<line x1="614.5" y1="246" x2="779" y2="246" stroke="#555" stroke-width="0.9"/>
<line x1="614.5" y1="247.6" x2="779" y2="247.6" stroke="#555" stroke-width="0.9"/>
<path d="M482.5 188.1 Q482.5 185.1 486.5 184.1 L508 179.6 L587.5 179.6 L610.5 184.1 Q614.5 185.1 614.5 188.1 L614.5 247.8 Q614.5 250.8 610.5 251.8 L587.5 256.3 L508 256.3 L486.5 251.8 Q482.5 250.8 482.5 247.8 Z" fill="#f6f6f6" stroke="#444" stroke-width="1"/>
<line x1="508" y1="179.5" x2="508" y2="256.5" stroke="#555" stroke-width="1"/>
<line x1="587.5" y1="179.5" x2="587.5" y2="256.5" stroke="#555" stroke-width="1"/>
<path d="M645.2 188 Q645.2 185 649.2 184 L669.5 180 L755 180 L775 184 Q779 185 779 188 L779 248 Q779 251 775 252 L755 256 L669.5 256 L649.2 252 Q645.2 251 645.2 248 Z" fill="none" stroke="#333" stroke-width="0.9"/>
<rect x="472" y="180.5" width="7" height="7" fill="none" stroke="#555" stroke-width="0.9"/>
<rect x="472" y="248.5" width="7" height="7" fill="none" stroke="#555" stroke-width="0.9"/>
<line x1="474.5" y1="188" x2="474.5" y2="248" stroke="#777" stroke-width="0.9"/>
<line x1="478.5" y1="188" x2="478.5" y2="248" stroke="#999" stroke-width="0.9"/>
<rect x="512.5" y="180.6" width="21" height="6" fill="#f8f8f8" stroke="#333" stroke-width="0.9"/>
<rect x="541.5" y="180.6" width="13" height="6" fill="#f8f8f8" stroke="#333" stroke-width="0.9"/>
<rect x="562.5" y="180.6" width="21" height="6" fill="#f8f8f8" stroke="#333" stroke-width="0.9"/>
<circle cx="516.7" cy="183.6" r="1.7" fill="#fff" stroke="#222" stroke-width="0.9"/>
<circle cx="528.5" cy="183.6" r="1.7" fill="#fff" stroke="#222" stroke-width="0.9"/>
<circle cx="548.3" cy="183.6" r="1.7" fill="#fff" stroke="#222" stroke-width="0.9"/>
<circle cx="567.3" cy="183.6" r="1.7" fill="#fff" stroke="#222" stroke-width="0.9"/>
<circle cx="579.5" cy="183.6" r="1.7" fill="#fff" stroke="#222" stroke-width="0.9"/>
<rect x="512.5" y="248.3" width="21" height="6" fill="#f8f8f8" stroke="#333" stroke-width="0.9"/>
<rect x="541.5" y="248.3" width="13" height="6" fill="#f8f8f8" stroke="#333" stroke-width="0.9"/>
<rect x="562.5" y="248.3" width="21" height="6" fill="#f8f8f8" stroke="#333" stroke-width="0.9"/>
<circle cx="516.7" cy="251.3" r="1.7" fill="#fff" stroke="#222" stroke-width="0.9"/>
<circle cx="528.5" cy="251.3" r="1.7" fill="#fff" stroke="#222" stroke-width="0.9"/>
<circle cx="548.3" cy="251.3" r="1.7" fill="#fff" stroke="#222" stroke-width="0.9"/>
<circle cx="567.3" cy="251.3" r="1.7" fill="#fff" stroke="#222" stroke-width="0.9"/>
<circle cx="579.5" cy="251.3" r="1.7" fill="#fff" stroke="#222" stroke-width="0.9"/>
<circle cx="627.6" cy="182.7" r="3.2" fill="#f6f6f6" stroke="#333" stroke-width="0.9"/>
<circle cx="627.6" cy="182.7" r="2" fill="none" stroke="#333" stroke-width="0.8"/>
<circle cx="627.6" cy="252.2" r="3.2" fill="#f6f6f6" stroke="#333" stroke-width="0.9"/>
<circle cx="627.6" cy="252.2" r="2" fill="none" stroke="#333" stroke-width="0.8"/>
<circle cx="693" cy="182.7" r="3.2" fill="#f6f6f6" stroke="#333" stroke-width="0.9"/>
<circle cx="693" cy="182.7" r="2" fill="none" stroke="#333" stroke-width="0.8"/>
<circle cx="693" cy="252.2" r="3.2" fill="#f6f6f6" stroke="#333" stroke-width="0.9"/>
<circle cx="693" cy="252.2" r="2" fill="none" stroke="#333" stroke-width="0.8"/>
<circle cx="758.8" cy="182.7" r="3.2" fill="#f6f6f6" stroke="#333" stroke-width="0.9"/>
<circle cx="758.8" cy="182.7" r="2" fill="none" stroke="#333" stroke-width="0.8"/>
<circle cx="758.8" cy="252.2" r="3.2" fill="#f6f6f6" stroke="#333" stroke-width="0.9"/>
<circle cx="758.8" cy="252.2" r="2" fill="none" stroke="#333" stroke-width="0.8"/>
<line x1="548.3" y1="172" x2="548.3" y2="256" stroke="#808080" stroke-width="1"/>
<line x1="467" y1="217.3" x2="520" y2="217.3" stroke="#2b2b2b" stroke-width="0.9" stroke-dasharray="21 1 1.2 1"/>
<line x1="541.5" y1="217.3" x2="789.5" y2="217.3" stroke="#2b2b2b" stroke-width="0.9" stroke-dasharray="21 1 1.2 1"/>
<line x1="536.5" y1="183.6" x2="536.5" y2="251.3" stroke="#2b2b2b" stroke-width="1"/>
<line x1="536.5" y1="183.6" x2="548.3" y2="183.6" stroke="#2b2b2b" stroke-width="1"/>
<line x1="536.5" y1="251.3" x2="548.3" y2="251.3" stroke="#2b2b2b" stroke-width="1"/>
<path d="M536.5 183.6 L535.05 188.6 L537.95 188.6 Z" fill="#2b2b2b"/>
<path d="M536.5 251.3 L535.05 246.3 L537.95 246.3 Z" fill="#2b2b2b"/>
<text x="536" y="219" font-size="14.4" fill="#1a1a1a" text-anchor="middle" transform="rotate(-90 536 219)" textLength="21.69" lengthAdjust="spacingAndGlyphs">104</text>
<line x1="779" y1="179.5" x2="779" y2="256.5" stroke="#333" stroke-width="1"/>
<rect x="780.6" y="189" width="7.4" height="57" fill="none" stroke="#555" stroke-width="0.9" rx="1.5"/>
<line x1="781.4" y1="181" x2="781.4" y2="256" stroke="#777" stroke-width="0.8"/>
<line x1="789.3" y1="181" x2="789.3" y2="256" stroke="#555" stroke-width="0.8"/>
<circle cx="783.6" cy="199.6" r="1.1" fill="#fff" stroke="#333" stroke-width="0.8"/>
<circle cx="783.6" cy="235.2" r="1.1" fill="#fff" stroke="#333" stroke-width="0.8"/>
<path d="M775 181 Q779.5 182 779.5 188" fill="none" stroke="#333" stroke-width="0.9"/>
<path d="M775 255 Q779.5 254 779.5 248" fill="none" stroke="#333" stroke-width="0.9"/>
<rect x="710.3" y="247.6" width="14.6" height="10.2" fill="#e8e8e8" stroke="#111" stroke-width="1.3"/>
<line x1="715" y1="249" x2="715" y2="257" stroke="#333" stroke-width="0.9"/>
<line x1="719" y1="249" x2="719" y2="257" stroke="#333" stroke-width="0.9"/>
<line x1="711" y1="252.5" x2="724" y2="252.5" stroke="#333" stroke-width="0.9"/>
<rect x="724.9" y="249.8" width="11.3" height="6.6" fill="#f6f6f6" stroke="#666" stroke-width="0.8"/>
<path d="M461.2 197 L470 197 L470 179.2 L792.5 179.2 L792.5 256.8 L470 256.8 L470 239 L465.2 239" fill="none" stroke="#111" stroke-width="1.6"/>
<line x1="521.5" y1="177.9" x2="574" y2="177.9" stroke="#222" stroke-width="1.2"/>
<line x1="530" y1="176.5" x2="565" y2="176.5" stroke="#111" stroke-width="1.6"/>
<line x1="530" y1="258.4" x2="565" y2="258.4" stroke="#111" stroke-width="1.5"/>
<line x1="711.9" y1="177.2" x2="728" y2="177.2" stroke="#111" stroke-width="1.8"/>
<line x1="728" y1="178" x2="739" y2="178.6" stroke="#111" stroke-width="1.2"/>
<path d="M427.2 177.2 L440.8 175.6 L441.8 185 L428.6 186.8 Z" fill="#f6f6f6" stroke="#444" stroke-width="0.9"/>
<line x1="423" y1="183.8" x2="427.5" y2="183.8" stroke="#555" stroke-width="0.9"/>
<line x1="423" y1="185.6" x2="444" y2="185.6" stroke="#666" stroke-width="0.9"/>
<line x1="444" y1="175" x2="444" y2="188" stroke="#555" stroke-width="0.9"/>
<rect x="449.2" y="175.5" width="3.6" height="8.5" fill="none" stroke="#444" stroke-width="0.9"/>
<rect x="456.8" y="175.5" width="3.4" height="8.5" fill="none" stroke="#444" stroke-width="0.9"/>
<rect x="447.5" y="183.8" width="5.5" height="2.2" fill="none" stroke="#444" stroke-width="0.8"/>
<rect x="456.3" y="186" width="4.3" height="4.4" fill="none" stroke="#444" stroke-width="0.8"/>
<line x1="425" y1="184" x2="425" y2="231" stroke="#444" stroke-width="0.9"/>
<line x1="428.5" y1="188" x2="428.5" y2="231" stroke="#444" stroke-width="0.9"/>
<line x1="454" y1="188" x2="454" y2="231" stroke="#444" stroke-width="0.9"/>
<line x1="458.4" y1="190.5" x2="458.4" y2="231" stroke="#444" stroke-width="0.9"/>
<line x1="428.5" y1="188" x2="454" y2="188" stroke="#666" stroke-width="0.9"/>
<rect x="435.6" y="192" width="17.8" height="11.4" fill="#f5f5f5" stroke="#555" stroke-width="0.9" rx="0.8"/>
<rect x="440.2" y="195.2" width="10.1" height="5.1" fill="#fbfbfb" stroke="#333" stroke-width="0.9"/>
<rect x="422.6" y="230.4" width="6" height="3.6" fill="none" stroke="#444" stroke-width="0.9"/>
<rect x="454" y="230.4" width="6.5" height="3.6" fill="none" stroke="#444" stroke-width="0.9"/>
<line x1="422.5" y1="234.7" x2="460.5" y2="234.7" stroke="#444" stroke-width="0.9"/>
<rect x="461.2" y="198" width="11.4" height="37.8" fill="none" stroke="#555" stroke-width="0.9"/>
<line x1="470.8" y1="198" x2="470.8" y2="235.8" stroke="#999" stroke-width="0.8"/>
<circle cx="462.4" cy="201.7" r="1.9" fill="#ddd" stroke="#333" stroke-width="0.9"/>
<circle cx="475.4" cy="199.3" r="0.9" fill="#fff" stroke="#333" stroke-width="0.7"/>
<circle cx="462.4" cy="233.1" r="1.9" fill="#ddd" stroke="#333" stroke-width="0.9"/>
<circle cx="475.4" cy="235.1" r="0.9" fill="#fff" stroke="#333" stroke-width="0.7"/>
<line x1="419" y1="242.5" x2="464" y2="242.5" stroke="#777" stroke-width="0.9"/>
<rect x="418.8" y="267.9" width="45.4" height="3.4" fill="#c4c4c4"/>
<path d="M421.7 237.5 L421.7 174.2 L461.2 174.2 L461.2 197" fill="none" stroke="#111" stroke-width="2"/>
<rect x="417.8" y="237.5" width="47.4" height="34.5" fill="none" stroke="#111" stroke-width="2" rx="2.2"/>
<line x1="548.3" y1="251.3" x2="530.7" y2="287.6" stroke="#2b2b2b" stroke-width="1"/>
<line x1="443.9" y1="287.7" x2="530.7" y2="287.7" stroke="#2b2b2b" stroke-width="1"/>
<text x="444.3" y="285.7" font-size="14" fill="#1a1a1a">2-Ø</text>
<text x="469.6" y="285.7" font-size="14" fill="#1a1a1a">6</text>
<text x="481" y="285.7" font-size="14" fill="#1a1a1a">H7</text>
<line x1="501.5" y1="276.3" x2="512" y2="276.3" stroke="#555" stroke-width="0.9"/>
<line x1="506.75" y1="276.3" x2="506.75" y2="285.9" stroke="#555" stroke-width="0.9"/>
<path d="M503.1 279.95 L506.75 285.9 L510.4 279.95" fill="none" stroke="#555" stroke-width="0.9"/>
<text x="514" y="285.7" font-size="14" fill="#1a1a1a">10</text>
<line x1="579.5" y1="251.3" x2="610" y2="285.3" stroke="#2b2b2b" stroke-width="1"/>
<line x1="610" y1="285.3" x2="703.3" y2="285.3" stroke="#2b2b2b" stroke-width="1"/>
<text x="611.6" y="283.2" font-size="14.4" fill="#1a1a1a" textLength="29.62" lengthAdjust="spacingAndGlyphs">8-M6</text>
<text x="650.6" y="283.2" font-size="14.4" fill="#1a1a1a" textLength="24.57" lengthAdjust="spacingAndGlyphs">x1.0</text>
<line x1="676.5" y1="274" x2="687" y2="274" stroke="#555" stroke-width="0.9"/>
<line x1="681.75" y1="274" x2="681.75" y2="283.2" stroke="#555" stroke-width="0.9"/>
<path d="M678.1 277.5 L681.75 283.2 L685.4 277.5" fill="none" stroke="#555" stroke-width="0.9"/>
<text x="687.3" y="283.2" font-size="14.4" fill="#1a1a1a" textLength="14.46" lengthAdjust="spacingAndGlyphs">17</text>
<rect x="475.2" y="381.4" width="305.2" height="37.8" fill="#f7f7f7"/>
<rect x="475.2" y="384.2" width="305.2" height="5.2" fill="#ebebeb"/>
<rect x="475.2" y="392.5" width="305.2" height="2" fill="#f0f0f0"/>
<line x1="475.2" y1="384.2" x2="780.3" y2="384.2" stroke="#333" stroke-width="0.9"/>
<line x1="475.2" y1="387.3" x2="780.3" y2="387.3" stroke="#8a8a8a" stroke-width="0.9"/>
<line x1="475.2" y1="389.5" x2="780.3" y2="389.5" stroke="#777" stroke-width="0.9"/>
<line x1="475.2" y1="394.2" x2="780.3" y2="394.2" stroke="#aaa" stroke-width="0.8"/>
<line x1="475.2" y1="399.4" x2="780.3" y2="399.4" stroke="#b5b5b5" stroke-width="0.8"/>
<line x1="475.2" y1="403.9" x2="780.3" y2="403.9" stroke="#444" stroke-width="0.9"/>
<line x1="475.2" y1="412.4" x2="780.3" y2="412.4" stroke="#2a2a2a" stroke-width="1"/>
<rect x="491.7" y="394.7" width="7.3" height="3.8" fill="#fafafa" stroke="#555" stroke-width="0.8"/>
<rect x="557.95" y="394.7" width="7.3" height="3.8" fill="#fafafa" stroke="#555" stroke-width="0.8"/>
<rect x="624.2" y="394.7" width="7.3" height="3.8" fill="#fafafa" stroke="#555" stroke-width="0.8"/>
<rect x="690.45" y="394.7" width="7.3" height="3.8" fill="#fafafa" stroke="#555" stroke-width="0.8"/>
<rect x="756.7" y="394.7" width="7.3" height="3.8" fill="#fafafa" stroke="#555" stroke-width="0.8"/>
<rect x="780.3" y="380" width="12.2" height="39.4" fill="#f2f2f2"/>
<path d="M780.3 381.4 L780.3 419.3" fill="none" stroke="#333" stroke-width="1"/>
<rect x="781.2" y="383.2" width="6.8" height="4.2" fill="none" stroke="#333" stroke-width="0.9" rx="0.8"/>
<line x1="780.3" y1="389" x2="792" y2="389" stroke="#666" stroke-width="0.8"/>
<rect x="711.6" y="382" width="14.4" height="10.6" fill="#ededed" stroke="#111" stroke-width="1.2"/>
<rect x="713" y="383" width="3.3" height="3.6" fill="#ccc" stroke="#222" stroke-width="0.8"/>
<rect x="721.4" y="383" width="3.3" height="3.6" fill="#ccc" stroke="#222" stroke-width="0.8"/>
<line x1="718.7" y1="382" x2="718.7" y2="391" stroke="#333" stroke-width="0.9"/>
<rect x="726" y="388" width="13.2" height="3.6" fill="#f8f8f8" stroke="#777" stroke-width="0.8"/>
<path d="M480.4 381.2 L480.4 373.6 L509.8 368.6 L532 368.6 L533 369.9 L539 369.9 L540 368.6 L553 368.6 L554 369.9 L560 369.9 L561 368.6 L583.2 368.6 L614.2 373.8 L614.2 381.2 Z" fill="#f5f5f5"/>
<line x1="482" y1="374.5" x2="482" y2="381" stroke="#666" stroke-width="0.8"/>
<line x1="507" y1="369.5" x2="507" y2="381" stroke="#555" stroke-width="0.9"/>
<line x1="588.5" y1="369.5" x2="588.5" y2="381" stroke="#555" stroke-width="0.9"/>
<rect x="528.5" y="373" width="38" height="8" fill="#f7f7f7" stroke="#444" stroke-width="0.9" rx="1.6"/>
<circle cx="533" cy="377.8" r="1.4" fill="#fff" stroke="#444" stroke-width="0.8"/>
<path d="M532 381.6 L532 392.4 L561 392.4 L561 381.6" fill="#f3f3f3" stroke="#111" stroke-width="1.3"/>
<path d="M519 388.4 L519 391.6 L532 391.6" fill="none" stroke="#555" stroke-width="0.8"/>
<path d="M574 388.4 L574 391.6 L561 391.6" fill="none" stroke="#555" stroke-width="0.8"/>
<circle cx="534.8" cy="384.6" r="1.8" fill="#999" stroke="#111" stroke-width="1"/>
<circle cx="558.5" cy="384.6" r="1.8" fill="#999" stroke="#111" stroke-width="1"/>
<rect x="542.5" y="373.5" width="10" height="12.6" fill="#fbfbfb" stroke="#222" stroke-width="1"/>
<circle cx="544.2" cy="375.3" r="0.8" fill="none" stroke="#333" stroke-width="0.6"/>
<circle cx="550.8" cy="375.3" r="0.8" fill="none" stroke="#333" stroke-width="0.6"/>
<rect x="541.6" y="387" width="4.4" height="3.2" fill="#fff" stroke="#333" stroke-width="0.8"/>
<rect x="547" y="387" width="4.4" height="3.2" fill="#fff" stroke="#333" stroke-width="0.8"/>
<line x1="546.5" y1="386" x2="546.5" y2="393" stroke="#111" stroke-width="1"/>
<path d="M536 384 L541 384 L541 392" fill="none" stroke="#333" stroke-width="0.8"/>
<path d="M557 384 L552.6 384 L552.6 392" fill="none" stroke="#333" stroke-width="0.8"/>
<path d="M480.4 381.2 L480.4 373.6 L509.8 368.6 L532 368.6 L533 369.9 L539 369.9 L540 368.6 L553 368.6 L554 369.9 L560 369.9 L561 368.6 L583.2 368.6 L614.2 373.8 L614.2 381.2" fill="none" stroke="#111" stroke-width="1.7"/>
<line x1="475.2" y1="381.4" x2="780.3" y2="381.4" stroke="#111" stroke-width="1.6"/>
<line x1="474" y1="419.3" x2="792.5" y2="419.3" stroke="#111" stroke-width="1.8"/>
<path d="M780.3 381.4 L780.3 380.6 Q780.3 379.8 781.5 379.8 L788.5 379.8 Q792.5 379.8 792.5 383 L792.5 419.3" fill="none" stroke="#111" stroke-width="1.7"/>
<path d="M464.1 371.4 L470 371.4 L470 373.4 L473.4 373.4 L473.4 379.6 L477.5 380.4 L477.5 381.4 L475.2 381.4 L475.2 419 L464.1 419 Z" fill="#f3f3f3"/>
<path d="M464.1 371.4 L470 371.4 L470 373.4 L473.4 373.4 L473.4 379.6 L478 380.4" fill="none" stroke="#111" stroke-width="1.5"/>
<rect x="468.4" y="381.3" width="6.8" height="37.4" fill="#f6f6f6" stroke="#222" stroke-width="1"/>
<rect x="468.4" y="389.2" width="6.8" height="2.8" fill="#999" stroke="#222" stroke-width="0.8"/>
<rect x="468.8" y="410.8" width="3.2" height="6.2" fill="none" stroke="#333" stroke-width="0.8"/>
<line x1="466.2" y1="372" x2="466.2" y2="419" stroke="#666" stroke-width="0.8"/>
<rect x="415.9" y="325.6" width="48.2" height="94" fill="#f5f5f5"/>
<rect x="417" y="417" width="45" height="2.4" fill="#bdbdbd"/>
<line x1="417" y1="327.4" x2="462.3" y2="327.4" stroke="#777" stroke-width="0.8"/>
<line x1="462.3" y1="326" x2="462.3" y2="419" stroke="#555" stroke-width="0.8"/>
<rect x="426" y="322.5" width="26.8" height="3.1" fill="#f4f4f4" stroke="#222" stroke-width="1"/>
<rect x="438.5" y="321.1" width="13.6" height="4.5" fill="#f4f4f4" stroke="#222" stroke-width="1"/>
<line x1="434" y1="323" x2="434" y2="325.6" stroke="#444" stroke-width="0.8"/>
<rect x="415.9" y="325.6" width="48.2" height="94" fill="none" stroke="#111" stroke-width="1.4"/>
<line x1="416.2" y1="325" x2="416.2" y2="420.3" stroke="#111" stroke-width="2"/>
<line x1="415.4" y1="419.6" x2="464.6" y2="419.6" stroke="#111" stroke-width="1.9"/>
<rect x="467.5" y="504.4" width="322.7" height="78.5" fill="#f5f5f5"/>
<line x1="468.6" y1="475.4" x2="468.6" y2="504.4" stroke="#2b2b2b" stroke-width="1"/>
<line x1="495.6" y1="475.4" x2="495.6" y2="508.4" stroke="#111" stroke-width="1.2"/>
<line x1="693.6" y1="475.4" x2="693.6" y2="508.4" stroke="#111" stroke-width="1.2"/>
<line x1="759.6" y1="475.4" x2="759.6" y2="613" stroke="#111" stroke-width="1.2"/>
<line x1="791" y1="475.4" x2="791" y2="504.4" stroke="#9a9a9a" stroke-width="1"/>
<line x1="468.6" y1="475.4" x2="791" y2="475.4" stroke="#2b2b2b" stroke-width="1"/>
<path d="M468.6 475.4 L474.1 473.95 L474.1 476.85 Z" fill="#2b2b2b"/>
<path d="M495.6 475.4 L490.1 473.95 L490.1 476.85 Z" fill="#2b2b2b"/>
<path d="M495.6 475.4 L501.1 473.95 L501.1 476.85 Z" fill="#2b2b2b"/>
<path d="M693.6 475.4 L688.1 473.95 L688.1 476.85 Z" fill="#2b2b2b"/>
<path d="M693.6 475.4 L699.1 473.95 L699.1 476.85 Z" fill="#2b2b2b"/>
<path d="M759.6 475.4 L754.1 473.95 L754.1 476.85 Z" fill="#2b2b2b"/>
<path d="M759.6 475.4 L765.1 473.95 L765.1 476.85 Z" fill="#2b2b2b"/>
<path d="M791 475.4 L785.5 473.95 L785.5 476.85 Z" fill="#2b2b2b"/>
<line x1="490.1" y1="475.4" x2="501.1" y2="475.4" stroke="#111" stroke-width="1.6"/>
<line x1="688.1" y1="475.4" x2="699.1" y2="475.4" stroke="#111" stroke-width="1.6"/>
<line x1="754.1" y1="475.4" x2="765.1" y2="475.4" stroke="#111" stroke-width="1.6"/>
<text x="481.3" y="474.6" font-size="14" fill="#1a1a1a" text-anchor="middle">41</text>
<text x="593" y="474.7" font-size="14.4" fill="#1a1a1a" text-anchor="middle" textLength="38.45" lengthAdjust="spacingAndGlyphs">M*100</text>
<text x="726" y="474.6" font-size="14" fill="#1a1a1a" text-anchor="middle">A</text>
<text x="774" y="474.6" font-size="14" fill="#1a1a1a" text-anchor="middle">47</text>
<text x="509.6" y="491" font-size="14.6" fill="#1a1a1a" textLength="64" lengthAdjust="spacingAndGlyphs">N-M8x1.25</text>
<line x1="575.3" y1="481.4" x2="585.3" y2="481.4" stroke="#555" stroke-width="0.9"/>
<line x1="580.3" y1="481.4" x2="580.3" y2="491" stroke="#555" stroke-width="0.9"/>
<path d="M576.9 485.05 L580.3 491 L583.7 485.05" fill="none" stroke="#555" stroke-width="0.9"/>
<text x="587.8" y="491" font-size="14.6" fill="#1a1a1a" textLength="22.39" lengthAdjust="spacingAndGlyphs">16+</text>
<text x="613.6" y="491" font-size="14.6" fill="#1a1a1a" textLength="10.27" lengthAdjust="spacingAndGlyphs">Ø</text>
<text x="626.6" y="491" font-size="14.6" fill="#1a1a1a" textLength="18.35" lengthAdjust="spacingAndGlyphs">6.8</text>
<text x="649.6" y="491" font-size="14.6" fill="#1a1a1a" textLength="29.5" lengthAdjust="spacingAndGlyphs">THR.</text>
<line x1="666" y1="486.2" x2="691.5" y2="506.5" stroke="#2b2b2b" stroke-width="1"/>
<line x1="468.6" y1="582.9" x2="468.6" y2="613.6" stroke="#2b2b2b" stroke-width="1"/>
<line x1="495.6" y1="543.4" x2="495.6" y2="613.6" stroke="#111" stroke-width="1.2"/>
<line x1="561.6" y1="543.4" x2="561.6" y2="613.6" stroke="#111" stroke-width="1.2"/>
<line x1="468.6" y1="612.6" x2="759.6" y2="612.6" stroke="#2b2b2b" stroke-width="1"/>
<path d="M468.6 612.6 L474.1 611.15 L474.1 614.05 Z" fill="#2b2b2b"/>
<path d="M495.6 612.6 L490.1 611.15 L490.1 614.05 Z" fill="#2b2b2b"/>
<path d="M495.6 612.6 L501.1 611.15 L501.1 614.05 Z" fill="#2b2b2b"/>
<path d="M561.6 612.6 L556.1 611.15 L556.1 614.05 Z" fill="#2b2b2b"/>
<path d="M561.6 612.6 L567.1 611.15 L567.1 614.05 Z" fill="#2b2b2b"/>
<path d="M759.6 612.6 L754.1 611.15 L754.1 614.05 Z" fill="#2b2b2b"/>
<line x1="490.1" y1="612.6" x2="501.1" y2="612.6" stroke="#111" stroke-width="1.6"/>
<line x1="556.1" y1="612.6" x2="567.1" y2="612.6" stroke="#111" stroke-width="1.6"/>
<line x1="754" y1="612.6" x2="759.6" y2="612.6" stroke="#111" stroke-width="1.6"/>
<text x="481.3" y="612" font-size="14" fill="#1a1a1a" text-anchor="middle">41</text>
<text x="531.2" y="612" font-size="14" fill="#333" text-anchor="middle" textLength="57" lengthAdjust="spacingAndGlyphs">100±0.02</text>
<text x="643.5" y="612.2" font-size="14" fill="#1a1a1a" text-anchor="middle">P</text>
<line x1="561.6" y1="543.4" x2="589" y2="599.4" stroke="#2b2b2b" stroke-width="1"/>
<line x1="589" y1="599.4" x2="670" y2="599.4" stroke="#888" stroke-width="1.2"/>
<text x="590" y="597.4" font-size="14" fill="#1a1a1a">2-</text>
<text x="604.6" y="597.4" font-size="14" fill="#1a1a1a">Ø6</text>
<text x="629.5" y="597.4" font-size="14" fill="#1a1a1a">H7</text>
<line x1="648.5" y1="587.6" x2="659" y2="587.6" stroke="#555" stroke-width="0.9"/>
<line x1="653.75" y1="587.6" x2="653.75" y2="597.6" stroke="#555" stroke-width="0.9"/>
<path d="M650.1 591.4 L653.75 597.6 L657.4 591.4" fill="none" stroke="#555" stroke-width="0.9"/>
<text x="662" y="597.4" font-size="14" fill="#1a1a1a">6</text>
<line x1="474.8" y1="524.6" x2="779" y2="524.6" stroke="#333" stroke-width="0.9"/>
<line x1="474.8" y1="527.4" x2="779" y2="527.4" stroke="#8a8a8a" stroke-width="0.9"/>
<line x1="474.8" y1="560.4" x2="779" y2="560.4" stroke="#8a8a8a" stroke-width="0.9"/>
<line x1="474.8" y1="563.2" x2="779" y2="563.2" stroke="#333" stroke-width="0.9"/>
<line x1="466" y1="543.4" x2="790" y2="543.4" stroke="#444" stroke-width="0.9" stroke-dasharray="21 1 1.2 1"/>
<circle cx="495.6" cy="508.4" r="1.9" fill="#fff" stroke="#222" stroke-width="0.9"/>
<circle cx="495.6" cy="579.4" r="1.9" fill="#fff" stroke="#222" stroke-width="0.9"/>
<circle cx="561.6" cy="508.4" r="1.9" fill="#fff" stroke="#222" stroke-width="0.9"/>
<circle cx="561.6" cy="579.4" r="1.9" fill="#fff" stroke="#222" stroke-width="0.9"/>
<circle cx="627.5" cy="508.4" r="1.9" fill="#fff" stroke="#222" stroke-width="0.9"/>
<circle cx="627.5" cy="579.4" r="1.9" fill="#fff" stroke="#222" stroke-width="0.9"/>
<circle cx="693.6" cy="508.4" r="1.9" fill="#fff" stroke="#222" stroke-width="0.9"/>
<circle cx="693.6" cy="579.4" r="1.9" fill="#fff" stroke="#222" stroke-width="0.9"/>
<circle cx="759.6" cy="508.4" r="1.9" fill="#fff" stroke="#222" stroke-width="0.9"/>
<circle cx="759.6" cy="579.4" r="1.9" fill="#fff" stroke="#222" stroke-width="0.9"/>
<circle cx="495.6" cy="543.4" r="1.9" fill="#bbb" stroke="#222" stroke-width="0.9"/>
<line x1="494.3" y1="542.1" x2="496.9" y2="544.7" stroke="#222" stroke-width="0.6"/>
<line x1="494.3" y1="544.7" x2="496.9" y2="542.1" stroke="#222" stroke-width="0.6"/>
<circle cx="561.6" cy="543.4" r="1.9" fill="#bbb" stroke="#222" stroke-width="0.9"/>
<line x1="560.3" y1="542.1" x2="562.9" y2="544.7" stroke="#222" stroke-width="0.6"/>
<line x1="560.3" y1="544.7" x2="562.9" y2="542.1" stroke="#222" stroke-width="0.6"/>
<circle cx="759.6" cy="543.4" r="4.1" fill="none" stroke="#2bb5dd" stroke-width="1.1"/>
<circle cx="759.6" cy="543.4" r="2.1" fill="#ccc" stroke="#222" stroke-width="0.9"/>
<line x1="758" y1="541.8" x2="761.2" y2="545" stroke="#222" stroke-width="0.6"/>
<line x1="758" y1="545" x2="761.2" y2="541.8" stroke="#222" stroke-width="0.6"/>
<text x="739.6" y="554.6" font-size="14" fill="#36b9e0">B</text>
<path d="M740.3 558 L751 558 L757.2 546.6" fill="none" stroke="#666" stroke-width="1"/>
<line x1="759.6" y1="508.4" x2="808" y2="508.4" stroke="#2b2b2b" stroke-width="0.9"/>
<line x1="759.6" y1="579.4" x2="808" y2="579.4" stroke="#2b2b2b" stroke-width="0.9"/>
<line x1="808" y1="508.4" x2="808" y2="579.4" stroke="#2b2b2b" stroke-width="1"/>
<path d="M808 508.4 L806.55 513.9 L809.45 513.9 Z" fill="#2b2b2b"/>
<path d="M808 579.4 L806.55 573.9 L809.45 573.9 Z" fill="#2b2b2b"/>
<line x1="790" y1="504.4" x2="823" y2="504.4" stroke="#9a9a9a" stroke-width="0.9"/>
<line x1="790" y1="582.9" x2="823" y2="582.9" stroke="#9a9a9a" stroke-width="0.9"/>
<line x1="823" y1="504.4" x2="823" y2="582.9" stroke="#2b2b2b" stroke-width="1"/>
<path d="M823 504.4 L821.55 509.9 L824.45 509.9 Z" fill="#2b2b2b"/>
<path d="M823 582.9 L821.55 577.4 L824.45 577.4 Z" fill="#2b2b2b"/>
<text x="806.4" y="544" font-size="14.6" fill="#1a1a1a" text-anchor="middle" transform="rotate(-90 806.4 544)" textLength="22.19" lengthAdjust="spacingAndGlyphs">108</text>
<text x="821.7" y="544" font-size="14.6" fill="#1a1a1a" text-anchor="middle" transform="rotate(-90 821.7 544)" textLength="22.19" lengthAdjust="spacingAndGlyphs">120</text>
<line x1="759.6" y1="495" x2="776" y2="495" stroke="#2b2b2b" stroke-width="1"/>
<path d="M760.2 495 L767.2 493.5 L767.2 496.5 Z" fill="#2b2b2b"/>
<text x="776.2" y="500.8" font-size="15" fill="#f3a533">A</text>
<line x1="759.6" y1="591" x2="776" y2="591" stroke="#2b2b2b" stroke-width="1"/>
<path d="M760.2 591 L767.2 589.5 L767.2 592.5 Z" fill="#2b2b2b"/>
<text x="776.2" y="596.8" font-size="15" fill="#f3a533">A</text>
<rect x="779" y="504.4" width="11" height="78.5" fill="#f0f0f0"/>
<line x1="779" y1="504.4" x2="779" y2="582.9" stroke="#333" stroke-width="1.1"/>
<rect x="780" y="505.2" width="9" height="2.6" fill="#888"/>
<rect x="780" y="579.7" width="9" height="2.4" fill="#888"/>
<line x1="474.8" y1="504.4" x2="474.8" y2="582.9" stroke="#222" stroke-width="1.1"/>
<rect x="468.6" y="506.4" width="2.6" height="5.4" fill="none" stroke="#333" stroke-width="0.8"/>
<rect x="468.6" y="575" width="2.6" height="5.4" fill="none" stroke="#333" stroke-width="0.8"/>
<line x1="519.4" y1="502.6" x2="573" y2="502.6" stroke="#222" stroke-width="1.2"/>
<line x1="528" y1="501.8" x2="566" y2="501.8" stroke="#444" stroke-width="1"/>
<rect x="710.5" y="501.6" width="16" height="2.8" fill="#f4f4f4" stroke="#222" stroke-width="0.9" rx="1"/>
<line x1="726.5" y1="503" x2="738" y2="503" stroke="#333" stroke-width="1.2"/>
<path d="M709 583 L710 585.2 L726 585.2 L727 584.4 L737 584.2" fill="none" stroke="#111" stroke-width="1.4"/>
<path d="M467.5 523.8 L467.5 504.4 L790.2 504.4 L790.2 582.9 L467.5 582.9 L467.5 564.6" fill="none" stroke="#111" stroke-width="1.8"/>
<line x1="790" y1="504.4" x2="790" y2="582.9" stroke="#111" stroke-width="2.4"/>
<rect x="415.8" y="489.7" width="47.8" height="34.2" fill="#f5f5f5" stroke="#111" stroke-width="1.9" rx="2"/>
<line x1="417" y1="516.4" x2="462.5" y2="516.4" stroke="#777" stroke-width="0.9"/>
<line x1="417" y1="492" x2="462.5" y2="492" stroke="#bbb" stroke-width="0.8"/>
<rect x="418" y="523.8" width="51.8" height="40.8" fill="#f5f5f5"/>
<line x1="469.8" y1="523.8" x2="469.8" y2="564.6" stroke="#333" stroke-width="0.9"/>
<path d="M463.6 523.8 L467.8 523.8 M418 523.8 L418 564.6 L467.5 564.6" fill="none" stroke="#111" stroke-width="1.8"/>
<line x1="415.8" y1="523.8" x2="463.6" y2="523.8" stroke="#111" stroke-width="1.8"/>
<circle cx="428.8" cy="527.9" r="2.3" fill="#c8c8c8" stroke="#222" stroke-width="0.9"/>
<line x1="427.3" y1="526.4" x2="430.3" y2="529.4" stroke="#222" stroke-width="0.7"/>
<line x1="427.3" y1="529.4" x2="430.3" y2="526.4" stroke="#222" stroke-width="0.7"/>
<circle cx="428.8" cy="559.7" r="2.3" fill="#c8c8c8" stroke="#222" stroke-width="0.9"/>
<line x1="427.3" y1="558.2" x2="430.3" y2="561.2" stroke="#222" stroke-width="0.7"/>
<line x1="427.3" y1="561.2" x2="430.3" y2="558.2" stroke="#222" stroke-width="0.7"/>
<circle cx="459.8" cy="527.9" r="2.3" fill="#c8c8c8" stroke="#222" stroke-width="0.9"/>
<line x1="458.3" y1="526.4" x2="461.3" y2="529.4" stroke="#222" stroke-width="0.7"/>
<line x1="458.3" y1="529.4" x2="461.3" y2="526.4" stroke="#222" stroke-width="0.7"/>
<circle cx="459.8" cy="559.7" r="2.3" fill="#c8c8c8" stroke="#222" stroke-width="0.9"/>
<line x1="458.3" y1="558.2" x2="461.3" y2="561.2" stroke="#222" stroke-width="0.7"/>
<line x1="458.3" y1="561.2" x2="461.3" y2="558.2" stroke="#222" stroke-width="0.7"/>
<rect x="419.2" y="564.6" width="40.6" height="23.6" fill="#f4f4f4" stroke="#111" stroke-width="1.6"/>
<line x1="419.2" y1="569" x2="459.8" y2="569" stroke="#333" stroke-width="0.9"/>
<rect x="420" y="571" width="4.3" height="17" fill="#fafafa" stroke="#333" stroke-width="0.8"/>
<rect x="426.6" y="576" width="4.8" height="12" fill="#fafafa" stroke="#333" stroke-width="0.8"/>
<rect x="448" y="571" width="4.4" height="17" fill="#fafafa" stroke="#333" stroke-width="0.8"/>
<rect x="454.6" y="576" width="4.2" height="12" fill="#fafafa" stroke="#333" stroke-width="0.8"/>
<line x1="426.6" y1="572.8" x2="452.4" y2="572.8" stroke="#333" stroke-width="0.9"/>
<rect x="166.4" y="374.8" width="24.6" height="66" fill="#f6f6f6" rx="2"/>
<line x1="169.2" y1="376" x2="169.2" y2="440" stroke="#444" stroke-width="0.9"/>
<line x1="186.9" y1="375.5" x2="186.9" y2="440.5" stroke="#666" stroke-width="0.9"/>
<line x1="188.2" y1="375.5" x2="188.2" y2="440.5" stroke="#aaa" stroke-width="0.8"/>
<rect x="190.6" y="375" width="36" height="28" fill="#f5f5f5"/>
<rect x="192.5" y="377.4" width="33" height="2.9" fill="#fafafa" stroke="#333" stroke-width="0.9"/>
<rect x="192.5" y="399.6" width="33" height="2.9" fill="#fafafa" stroke="#333" stroke-width="0.9"/>
<rect x="193.5" y="377.4" width="1.6" height="2.9" fill="#333"/>
<rect x="193.5" y="399.6" width="1.6" height="2.9" fill="#333"/>
<rect x="222.5" y="381" width="3" height="2.6" fill="#444"/>
<rect x="222.5" y="400.2" width="3" height="2.2" fill="#444"/>
<line x1="226.4" y1="380.3" x2="226.4" y2="399.6" stroke="#444" stroke-width="0.9"/>
<path d="M214.2 375 L215.6 373.4 L217 373.4 L217.6 371.6 L221.2 371.6 L221.8 373.4 L223.4 373.4 L224.8 375" fill="#f2f2f2" stroke="#222" stroke-width="1.1"/>
<rect x="226.5" y="372" width="10.3" height="31" fill="#eee"/>
<rect x="228" y="373" width="7" height="4.6" fill="#f8f8f8" stroke="#333" stroke-width="0.8"/>
<rect x="228.6" y="377.6" width="7.4" height="5.6" fill="#e2e2e2" stroke="#333" stroke-width="0.8"/>
<rect x="228.4" y="395.5" width="1.8" height="1.8" fill="#333"/>
<line x1="227" y1="398.6" x2="236.5" y2="398.6" stroke="#555" stroke-width="0.8"/>
<path d="M226.5 375 L226.5 373.8 L228.2 372 L235.2 372 Q236.9 372 236.9 374 L236.9 403" fill="none" stroke="#111" stroke-width="1.5"/>
<rect x="190.6" y="405.4" width="42.8" height="35.6" fill="#f5f5f5"/>
<rect x="191.5" y="408.6" width="16.2" height="30.6" fill="#f7f7f7" stroke="#333" stroke-width="0.9"/>
<line x1="176" y1="408.5" x2="191" y2="408.5" stroke="#888" stroke-width="1.2"/>
<line x1="219.6" y1="407.5" x2="219.6" y2="439" stroke="#555" stroke-width="0.9"/>
<line x1="223" y1="409" x2="223" y2="439" stroke="#555" stroke-width="0.9"/>
<line x1="219.6" y1="409.2" x2="232" y2="409.2" stroke="#444" stroke-width="0.9"/>
<line x1="219.6" y1="438.4" x2="232" y2="438.4" stroke="#555" stroke-width="0.9"/>
<path d="M223.5 410 L231 410 L231 419.5 L227 419.5 L227 413 L223.5 413 Z" fill="#ddd" stroke="#222" stroke-width="0.9"/>
<rect x="226.2" y="418.5" width="5.4" height="3.8" fill="#555" stroke="#111" stroke-width="0.7"/>
<rect x="233.4" y="414.4" width="2" height="4" fill="#ddd" stroke="#222" stroke-width="0.8"/>
<circle cx="229.8" cy="426.8" r="2.3" fill="#e6e6e6" stroke="#222" stroke-width="0.9"/>
<circle cx="229.8" cy="426.8" r="1.2" fill="none" stroke="#333" stroke-width="0.7"/>
<circle cx="229.8" cy="436.5" r="2.3" fill="#e6e6e6" stroke="#222" stroke-width="0.9"/>
<circle cx="229.8" cy="436.5" r="1.2" fill="none" stroke="#333" stroke-width="0.7"/>
<path d="M191 374.8 L168.6 374.8 Q166.4 374.8 166.4 377 L166.4 438.6 Q166.4 440.8 168.6 440.8 L233.4 440.8 L233.4 405.4" fill="none" stroke="#111" stroke-width="1.7"/>
<line x1="191" y1="374.8" x2="226.5" y2="374.8" stroke="#111" stroke-width="1.6"/>
<line x1="191" y1="403.4" x2="236.9" y2="403.4" stroke="#111" stroke-width="1.8"/>
<line x1="191" y1="405.8" x2="233.4" y2="405.8" stroke="#111" stroke-width="1.4"/>
<line x1="191" y1="375" x2="191" y2="441" stroke="#333" stroke-width="1"/>
<line x1="177" y1="440.2" x2="191" y2="440.2" stroke="#111" stroke-width="1.2"/>
<line x1="174.1" y1="517.4" x2="174.1" y2="548" stroke="#2b2b2b" stroke-width="1"/>
<line x1="196.4" y1="517.4" x2="196.4" y2="548" stroke="#2b2b2b" stroke-width="1"/>
<line x1="154" y1="539.3" x2="176" y2="539.3" stroke="#2b2b2b" stroke-width="1"/>
<line x1="154" y1="556.5" x2="181" y2="556.5" stroke="#2b2b2b" stroke-width="1"/>
<circle cx="186.2" cy="548.3" r="17.3" fill="#eeeeee" stroke="#111" stroke-width="1.9"/>
<rect x="174.1" y="539.3" width="22.3" height="17.2" fill="#f8f8f8" stroke="#222" stroke-width="1" rx="8.6"/>
<line x1="174.1" y1="530" x2="174.1" y2="548" stroke="#2b2b2b" stroke-width="1"/>
<line x1="196.4" y1="530" x2="196.4" y2="548" stroke="#2b2b2b" stroke-width="1"/>
<line x1="154" y1="539.3" x2="186" y2="539.3" stroke="#2b2b2b" stroke-width="1"/>
<line x1="154" y1="556.5" x2="186" y2="556.5" stroke="#2b2b2b" stroke-width="1"/>
<line x1="149.5" y1="518.2" x2="174.1" y2="518.2" stroke="#2b2b2b" stroke-width="1"/>
<path d="M174.1 518.2 L161.5 516.3 L161.5 520.1 Z" fill="#fff" stroke="#2b2b2b" stroke-width="0.9"/>
<line x1="196.4" y1="518.2" x2="234" y2="518.2" stroke="#2b2b2b" stroke-width="1"/>
<path d="M196.4 518.2 L209 516.3 L209 520.1 Z" fill="#fff" stroke="#2b2b2b" stroke-width="0.9"/>
<text x="222.4" y="515.4" font-size="13" fill="#1a1a1a" text-anchor="middle">8</text>
<line x1="154.4" y1="539.1" x2="154.4" y2="636.5" stroke="#2b2b2b" stroke-width="1"/>
<path d="M154.4 539.1 L153.4 543.6 L155.4 543.6 Z" fill="#2b2b2b"/>
<path d="M154.4 556.3 L153.4 551.8 L155.4 551.8 Z" fill="#2b2b2b"/>
<text x="167" y="581.7" font-size="12.7" fill="#f0a53a" textLength="37.2" lengthAdjust="spacingAndGlyphs">B View</text>
<text x="142" y="612.8" font-size="12.2" fill="#1a1a1a" transform="rotate(-90 142 612.8)">+0.012</text>
<text x="151.8" y="632.4" font-size="12.2" fill="#1a1a1a" transform="rotate(-90 151.8 632.4)" textLength="14.4" lengthAdjust="spacingAndGlyphs">6.0</text>
<text x="151.8" y="606" font-size="12.2" fill="#1a1a1a" transform="rotate(-90 151.8 606)">0.000</text>
<text x="151.8" y="562" font-size="12.2" fill="#1a1a1a" transform="rotate(-90 151.8 562)">6</text>
<g transform="translate(151.8 573.4) rotate(-90)">
<line x1="0" y1="-8.8" x2="8.6" y2="-8.8" stroke="#444" stroke-width="0.9"/>
<line x1="4.3" y1="-8.8" x2="4.3" y2="0" stroke="#444" stroke-width="0.9"/>
<path d="M1.6 -5.46 L4.3 0 L7 -5.46" fill="none" stroke="#444" stroke-width="0.9"/>
</g>
<text x="989.4" y="324.7" font-size="13.6" fill="#1a1a1a" stroke="#1a1a1a" stroke-width="0.22" font-weight="500" font-family="'Liberation Sans', 'Noto Sans CJK TC', sans-serif" textLength="35.5" lengthAdjust="spacingAndGlyphs">基準面</text>
<text x="991.5" y="335.3" font-size="10.4" fill="#7d7d7d" font-family="Liberation Serif, serif" textLength="68.8" lengthAdjust="spacingAndGlyphs">The Datum Plane</text>
<path d="M1050 336.5 L982.3 336.5 L982.3 434.6 L989 434.6" fill="none" stroke="#555" stroke-width="1"/>
<path d="M994.3 434.6 L988.3 433.3 L988.3 435.9 Z" fill="#222"/>
<line x1="994.7" y1="349.5" x2="994.7" y2="368" stroke="#2b2b2b" stroke-width="0.9"/>
<line x1="1050.4" y1="349.5" x2="1050.4" y2="403" stroke="#2b2b2b" stroke-width="0.9"/>
<line x1="994.7" y1="349.5" x2="1050.4" y2="349.5" stroke="#2b2b2b" stroke-width="1"/>
<path d="M994.7 349.5 L999.7 348.05 L999.7 350.95 Z" fill="#2b2b2b"/>
<path d="M1050.4 349.5 L1045.4 348.05 L1045.4 350.95 Z" fill="#2b2b2b"/>
<text x="1022.3" y="348.3" font-size="13" fill="#1a1a1a" text-anchor="middle" textLength="19.5" lengthAdjust="spacingAndGlyphs">120</text>
<line x1="998.1" y1="359.3" x2="998.1" y2="368.5" stroke="#2b2b2b" stroke-width="0.9"/>
<line x1="1046.5" y1="359.3" x2="1046.5" y2="403" stroke="#2b2b2b" stroke-width="0.9"/>
<line x1="998.1" y1="359.3" x2="1046.5" y2="359.3" stroke="#2b2b2b" stroke-width="1"/>
<path d="M998.1 359.3 L1003.1 357.85 L1003.1 360.75 Z" fill="#2b2b2b"/>
<path d="M1046.5 359.3 L1041.5 357.85 L1041.5 360.75 Z" fill="#2b2b2b"/>
<text x="1022.3" y="358.7" font-size="13" fill="#1a1a1a" text-anchor="middle" textLength="19.5" lengthAdjust="spacingAndGlyphs">104</text>
<rect x="1036.5" y="371.3" width="24.1" height="65.9" fill="#f5f5f5"/>
<line x1="1041.7" y1="372" x2="1041.7" y2="403" stroke="#555" stroke-width="0.9"/>
<line x1="1046.5" y1="372" x2="1046.5" y2="403" stroke="#444" stroke-width="0.9"/>
<line x1="1050.4" y1="372" x2="1050.4" y2="403" stroke="#444" stroke-width="0.9"/>
<line x1="1036.5" y1="372" x2="1036.5" y2="400" stroke="#666" stroke-width="0.9"/>
<rect x="1002.3" y="372.1" width="34.2" height="27.8" fill="#f5f5f5"/>
<rect x="1002.5" y="373.8" width="31.4" height="3" fill="#fafafa" stroke="#333" stroke-width="0.9"/>
<rect x="1002.5" y="395.2" width="31.4" height="3" fill="#fafafa" stroke="#333" stroke-width="0.9"/>
<rect x="1031.2" y="373.8" width="2.7" height="3" fill="#fff" stroke="#333" stroke-width="0.8"/>
<rect x="1031.2" y="395.2" width="2.7" height="3" fill="#fff" stroke="#333" stroke-width="0.8"/>
<path d="M1005.6 372 L1006.6 369.2 L1008 368.2 L1010.6 368.2 L1011.6 369.8 L1013.4 372" fill="#f2f2f2" stroke="#222" stroke-width="1"/>
<rect x="991.3" y="368.5" width="11" height="31.4" fill="#ededed"/>
<rect x="992.6" y="369.4" width="8.6" height="4.2" fill="#f8f8f8" stroke="#333" stroke-width="0.8" rx="1"/>
<line x1="992" y1="378.4" x2="1000.5" y2="378.4" stroke="#333" stroke-width="0.9"/>
<line x1="992" y1="380.2" x2="999" y2="380.2" stroke="#333" stroke-width="0.9"/>
<line x1="992" y1="392.6" x2="1003" y2="392.6" stroke="#333" stroke-width="0.9"/>
<line x1="992" y1="394.4" x2="1003" y2="394.4" stroke="#555" stroke-width="0.8"/>
<line x1="1002.3" y1="376" x2="1002.3" y2="396" stroke="#555" stroke-width="0.9"/>
<line x1="998.3" y1="374" x2="998.3" y2="398" stroke="#888" stroke-width="0.8"/>
<path d="M1002.3 368.5 L993.2 368.5 Q991.3 368.5 991.3 370.5 L991.3 399.9" fill="none" stroke="#111" stroke-width="1.5"/>
<rect x="994.5" y="402" width="56.1" height="35.2" fill="#f5f5f5"/>
<path d="M996 403.6 L1049 403.6 L1049 407.4 L1045 409.6 L1000 409.6 L996 407.4 Z" fill="#f8f8f8" stroke="#333" stroke-width="0.9"/>
<line x1="997" y1="405.6" x2="1048" y2="405.6" stroke="#777" stroke-width="0.8"/>
<line x1="1000" y1="408.2" x2="1045" y2="408.2" stroke="#777" stroke-width="0.8"/>
<line x1="1000" y1="410.6" x2="1045" y2="410.6" stroke="#333" stroke-width="1.1"/>
<line x1="1022.6" y1="400" x2="1022.6" y2="440" stroke="#222" stroke-width="0.9"/>
<circle cx="1011" cy="420.9" r="2.6" fill="#f2f2f2" stroke="#222" stroke-width="0.9"/>
<circle cx="1011" cy="420.9" r="1.4" fill="#f4f4f4" stroke="#333" stroke-width="0.7"/>
<circle cx="1033.9" cy="420.9" r="2.6" fill="#f2f2f2" stroke="#222" stroke-width="0.9"/>
<circle cx="1033.9" cy="420.9" r="1.4" fill="#f4f4f4" stroke="#333" stroke-width="0.7"/>
<circle cx="998.2" cy="423" r="2.2" fill="#ececec" stroke="#222" stroke-width="0.9"/>
<circle cx="998.2" cy="423" r="1.1" fill="none" stroke="#333" stroke-width="0.6"/>
<circle cx="998.2" cy="434" r="2.2" fill="#ececec" stroke="#222" stroke-width="0.9"/>
<circle cx="998.2" cy="434" r="1.1" fill="none" stroke="#333" stroke-width="0.6"/>
<circle cx="1047" cy="423" r="2.2" fill="#ececec" stroke="#222" stroke-width="0.9"/>
<circle cx="1047" cy="423" r="1.1" fill="none" stroke="#333" stroke-width="0.6"/>
<circle cx="1047" cy="434" r="2.2" fill="#ececec" stroke="#222" stroke-width="0.9"/>
<circle cx="1047" cy="434" r="1.1" fill="none" stroke="#333" stroke-width="0.6"/>
<path d="M1043.5 411 L1043.5 418 L1045.5 420.5" fill="none" stroke="#555" stroke-width="0.8"/>
<line x1="1050.4" y1="421" x2="1050.4" y2="436" stroke="#888" stroke-width="0.9"/>
<rect x="992.4" y="411" width="3" height="7.8" fill="#ccc" stroke="#222" stroke-width="0.9"/>
<rect x="993" y="415.5" width="7.2" height="3" fill="#555" stroke="#111" stroke-width="0.7"/>
<path d="M996 411 L1001 410.6" fill="none" stroke="#222" stroke-width="1.3"/>
<path d="M1036.5 371.3 L1060.6 371.3 L1060.6 437.2" fill="none" stroke="#111" stroke-width="1.7"/>
<line x1="1002.3" y1="372.1" x2="1036.5" y2="372.1" stroke="#111" stroke-width="1.6"/>
<line x1="991.3" y1="399.9" x2="1037" y2="399.9" stroke="#111" stroke-width="1.9"/>
<path d="M994.5 402 L994.5 437.2 L1060.6 437.2" fill="none" stroke="#111" stroke-width="1.7"/>
<line x1="994.5" y1="402.3" x2="1050.6" y2="402.3" stroke="#222" stroke-width="1.1"/>
<rect x="1051" y="435.2" width="9" height="1.8" fill="#aaa"/>
<line x1="1050.6" y1="402" x2="1072.6" y2="402" stroke="#2b2b2b" stroke-width="0.9"/>
<line x1="1060.6" y1="437.5" x2="1072.6" y2="437.5" stroke="#2b2b2b" stroke-width="0.9"/>
<line x1="1071.8" y1="402" x2="1071.8" y2="437.5" stroke="#2b2b2b" stroke-width="1"/>
<path d="M1071.8 402 L1070.35 407 L1073.25 407 Z" fill="#2b2b2b"/>
<path d="M1071.8 437.5 L1070.35 432.5 L1073.25 432.5 Z" fill="#2b2b2b"/>
<text x="1070.2" y="418.6" font-size="13" fill="#1a1a1a" text-anchor="middle" transform="rotate(-90 1070.2 418.6)" textLength="12.4" lengthAdjust="spacingAndGlyphs">76</text>
<text x="1012.9" y="487.2" font-size="13.6" fill="#3bb6e2" textLength="48.4" lengthAdjust="spacingAndGlyphs">A-A View</text>
<line x1="990.6" y1="502" x2="990.6" y2="550.6" stroke="#2b2b2b" stroke-width="1"/>
<line x1="1079.5" y1="502" x2="1079.5" y2="550.6" stroke="#2b2b2b" stroke-width="1"/>
<line x1="990.6" y1="502" x2="1079.5" y2="502" stroke="#2b2b2b" stroke-width="1"/>
<path d="M990.6 502 L995.2 500.55 L995.2 503.45 Z" fill="#2b2b2b"/>
<path d="M1079.5 502 L1074.9 500.55 L1074.9 503.45 Z" fill="#2b2b2b"/>
<text x="1037" y="500.3" font-size="14" fill="#1a1a1a" text-anchor="middle" textLength="19.4" lengthAdjust="spacingAndGlyphs">120</text>
<line x1="990.6" y1="514.5" x2="1079.5" y2="514.5" stroke="#2b2b2b" stroke-width="1"/>
<path d="M990.6 514.5 L995.2 513.05 L995.2 515.95 Z" fill="#2b2b2b"/>
<path d="M1079.5 514.5 L1074.9 513.05 L1074.9 515.95 Z" fill="#2b2b2b"/>
<line x1="1035" y1="514.5" x2="1035" y2="520.6" stroke="#111" stroke-width="1.7"/>
<line x1="1031.4" y1="514.6" x2="1038.8" y2="514.6" stroke="#111" stroke-width="1.5"/>
<text x="994.2" y="513.2" font-size="13" fill="#1a1a1a" textLength="43.5" lengthAdjust="spacingAndGlyphs">60±0.03</text>
<text x="1048.4" y="513.2" font-size="13" fill="#1a1a1a" textLength="13.2" lengthAdjust="spacingAndGlyphs">60</text>
<text x="1006.2" y="530.2" font-size="14.5" fill="#1a1a1a" textLength="27.6" lengthAdjust="spacingAndGlyphs">Ø6.8</text>
<text x="1040.2" y="530.2" font-size="14.5" fill="#1a1a1a" textLength="27.8" lengthAdjust="spacingAndGlyphs">THR.</text>
<line x1="1006.2" y1="532.2" x2="1069" y2="532.2" stroke="#8a8a8a" stroke-width="1.3"/>
<line x1="1068.5" y1="532" x2="1073.5" y2="532" stroke="#111" stroke-width="1.3"/>
<line x1="1077.2" y1="532" x2="1082.2" y2="532" stroke="#111" stroke-width="1.3"/>
<line x1="1072.2" y1="532" x2="1072.2" y2="550.6" stroke="#2b2b2b" stroke-width="0.9"/>
<line x1="1073.4" y1="532" x2="1073.4" y2="550.6" stroke="#2b2b2b" stroke-width="0.9"/>
<line x1="1077.1" y1="532" x2="1077.1" y2="550.6" stroke="#2b2b2b" stroke-width="0.9"/>
<line x1="1079.3" y1="532" x2="1079.3" y2="550.6" stroke="#2b2b2b" stroke-width="0.9"/>
<defs><pattern id="hat" width="6.8" height="6.8" patternUnits="userSpaceOnUse" patternTransform="translate(1001.2 535)"><path d="M-1 7.8 L7.8 -1 M-1 1 L1 -1 M5.8 7.8 L7.8 5.8" stroke="#111" stroke-width="0.85" fill="none"/></pattern></defs>
<path d="M1003.4 535.6 L1066.6 535.6 L1066.6 541.8 L1068.2 541.8 L1068.2 550.4 L1071.9 550.4 L1071.9 577.8 L998.1 577.8 L998.1 550.4 L1001.8 550.4 L1001.8 541.8 L1003.4 541.8 Z" fill="#f3f3f3"/>
<path d="M1003.4 535.6 L1066.6 535.6 L1066.6 541.8 L1068.2 541.8 L1068.2 550.4 L1071.9 550.4 L1071.9 577.8 L998.1 577.8 L998.1 550.4 L1001.8 550.4 L1001.8 541.8 L1003.4 541.8 Z" fill="url(#hat)"/>
<rect x="1000.2" y="535.2" width="3.4" height="2.3" fill="#111"/>
<rect x="1000.2" y="539.9" width="3.8" height="2.2" fill="#111"/>
<line x1="1000.8" y1="535" x2="1000.8" y2="540" stroke="#111" stroke-width="1.2"/>
<line x1="1001.7" y1="541.5" x2="1001.7" y2="550.6" stroke="#111" stroke-width="1.4"/>
<line x1="990.4" y1="550.1" x2="1002.3" y2="550.1" stroke="#111" stroke-width="1.7"/>
<rect x="990.6" y="550.8" width="7.4" height="27" fill="#f6f6f6"/>
<line x1="997.8" y1="550.6" x2="997.8" y2="578" stroke="#111" stroke-width="1.2"/>
<line x1="991.5" y1="554.2" x2="997.5" y2="554.2" stroke="#666" stroke-width="0.8"/>
<line x1="991.5" y1="552.4" x2="997.5" y2="552.4" stroke="#bbb" stroke-width="0.8"/>
<line x1="992" y1="566.6" x2="997.5" y2="566.6" stroke="#888" stroke-width="0.8"/>
<line x1="990.9" y1="551" x2="990.9" y2="577.5" stroke="#111" stroke-width="1.5"/>
<path d="M992.7 556 Q991.7 566 992.7 577" fill="none" stroke="#111" stroke-width="1.2"/>
<line x1="995.2" y1="556" x2="995.2" y2="577" stroke="#999" stroke-width="0.8"/>
<rect x="1066.4" y="535.2" width="3.4" height="2.3" fill="#111"/>
<rect x="1066" y="539.9" width="3.8" height="2.2" fill="#111"/>
<line x1="1069.2" y1="535" x2="1069.2" y2="540" stroke="#111" stroke-width="1.2"/>
<line x1="1068.3" y1="541.5" x2="1068.3" y2="550.6" stroke="#111" stroke-width="1.4"/>
<line x1="1079.6" y1="550.1" x2="1067.7" y2="550.1" stroke="#111" stroke-width="1.7"/>
<rect x="1072" y="550.8" width="7.4" height="27" fill="#f6f6f6"/>
<line x1="1072.2" y1="550.6" x2="1072.2" y2="578" stroke="#111" stroke-width="1.2"/>
<line x1="1078.5" y1="554.2" x2="1072.5" y2="554.2" stroke="#666" stroke-width="0.8"/>
<line x1="1078.5" y1="552.4" x2="1072.5" y2="552.4" stroke="#bbb" stroke-width="0.8"/>
<line x1="1078" y1="566.6" x2="1072.5" y2="566.6" stroke="#888" stroke-width="0.8"/>
<line x1="1079.1" y1="551" x2="1079.1" y2="577.5" stroke="#111" stroke-width="1.5"/>
<path d="M1077.3 556 Q1078.3 566 1077.3 577" fill="none" stroke="#111" stroke-width="1.2"/>
<line x1="1074.8" y1="556" x2="1074.8" y2="577" stroke="#999" stroke-width="0.8"/>
<line x1="1000.2" y1="535.3" x2="1069.8" y2="535.3" stroke="#111" stroke-width="1.8"/>
<line x1="1034.8" y1="534" x2="1034.8" y2="578" stroke="#8a8a8a" stroke-width="1.4"/>
<rect x="1032.7" y="573.6" width="3.6" height="4.2" fill="none" stroke="#444" stroke-width="0.8"/>
<line x1="1032.7" y1="573.5" x2="1096.3" y2="573.5" stroke="#999" stroke-width="1"/>
<line x1="990" y1="578" x2="1080.4" y2="578" stroke="#111" stroke-width="1.7"/>
<path d="M1006 578 L1007 579 L1013 579 L1014 578 M1055 578 L1056 579 L1062 579 L1063 578" fill="none" stroke="#111" stroke-width="1"/>
<line x1="886" y1="573.7" x2="990" y2="573.7" stroke="#333" stroke-width="1"/>
<path d="M990.4 573.7 L984.4 572.4 L984.4 575 Z" fill="#222"/>
<text x="909.6" y="553.3" font-size="13.4" fill="#1a1a1a" stroke="#1a1a1a" stroke-width="0.2" font-weight="500" font-family="'Liberation Sans', 'Noto Sans CJK TC', sans-serif" textLength="40.6" lengthAdjust="spacing">基準面</text>
<text x="892.6" y="564.9" font-size="11.5" fill="#adadad" textLength="87" lengthAdjust="spacingAndGlyphs">The Datum Plane</text>
<line x1="991.7" y1="578" x2="991.7" y2="593" stroke="#2b2b2b" stroke-width="0.9"/>
<line x1="997.6" y1="578" x2="997.6" y2="593" stroke="#2b2b2b" stroke-width="0.9"/>
<line x1="984.7" y1="592.3" x2="1064" y2="592.3" stroke="#2b2b2b" stroke-width="1"/>
<path d="M991.7 592.3 L986.7 591.3 L986.7 593.3 Z" fill="#2b2b2b"/>
<path d="M997.6 592.3 L1002.6 591.3 L1002.6 593.3 Z" fill="#2b2b2b"/>
<text x="1001.6" y="589.7" font-size="13.2" fill="#1a1a1a" textLength="46.8" lengthAdjust="spacingAndGlyphs">M8x1.25</text>
<line x1="1049.4" y1="580.5" x2="1058.8" y2="580.5" stroke="#333" stroke-width="0.9"/>
<line x1="1054.1" y1="580.5" x2="1054.1" y2="589.9" stroke="#333" stroke-width="0.9"/>
<path d="M1051 584.07 L1054.1 589.9 L1057.2 584.07" fill="none" stroke="#333" stroke-width="0.9"/>
<text x="1059.2" y="589.7" font-size="13.2" fill="#1a1a1a" textLength="10.8" lengthAdjust="spacingAndGlyphs">16</text>
<line x1="1079.5" y1="566.3" x2="1110.8" y2="566.3" stroke="#2b2b2b" stroke-width="1"/>
<line x1="1079.5" y1="578.3" x2="1111.4" y2="578.3" stroke="#2b2b2b" stroke-width="1"/>
<line x1="1096.3" y1="565.5" x2="1096.3" y2="593.6" stroke="#2b2b2b" stroke-width="1"/>
<path d="M1096.3 573.4 L1095.2 569.4 L1097.4 569.4 Z" fill="#2b2b2b"/>
<path d="M1096.3 578.4 L1095.2 582.4 L1097.4 582.4 Z" fill="#2b2b2b"/>
<line x1="1110.8" y1="546.6" x2="1110.8" y2="585.6" stroke="#2b2b2b" stroke-width="1"/>
<path d="M1110.8 566.3 L1109.7 562.1 L1111.9 562.1 Z" fill="#2b2b2b"/>
<path d="M1110.8 578.4 L1109.7 582.6 L1111.9 582.6 Z" fill="#2b2b2b"/>
<text x="1108.9" y="554.3" font-size="13" fill="#1a1a1a" text-anchor="middle" transform="rotate(-90 1108.9 554.3)" textLength="12.6" lengthAdjust="spacingAndGlyphs">16</text>
<text x="1094.6" y="588.8" font-size="13" fill="#1a1a1a" text-anchor="middle" transform="rotate(-90 1094.6 588.8)">7</text>
</svg>
</body></html>
